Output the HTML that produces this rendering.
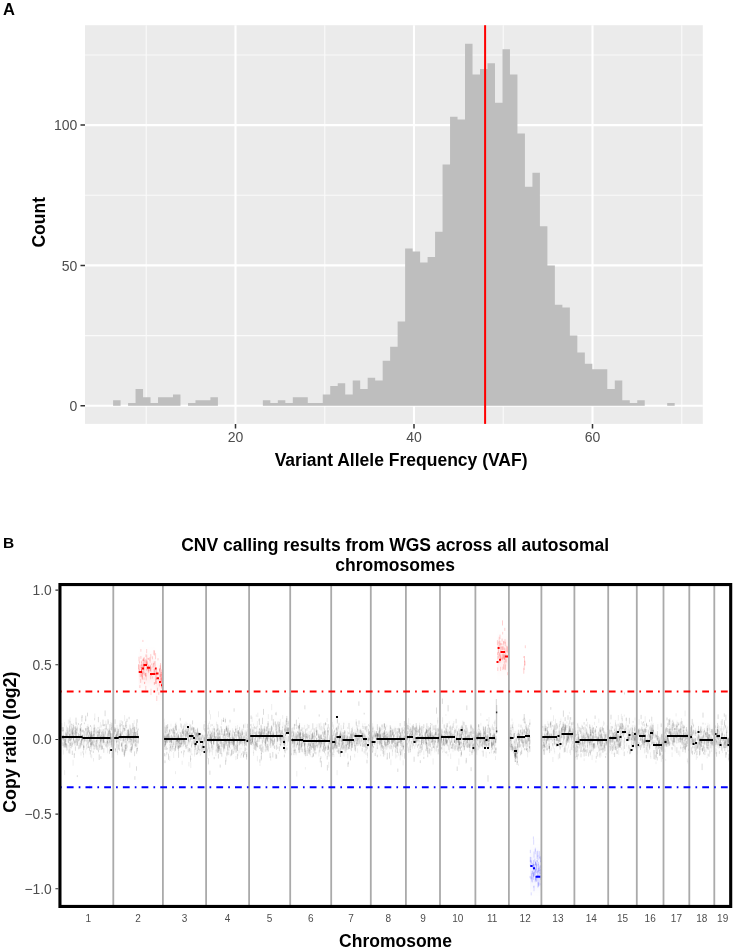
<!DOCTYPE html><html><head><meta charset="utf-8"><style>html,body{margin:0;padding:0;background:#fff;width:733px;height:949px;overflow:hidden}svg{display:block;will-change:transform}text{font-family:"Liberation Sans",sans-serif}</style></head><body>
<svg width="733" height="949" viewBox="0 0 733 949">
<rect x="85" y="25.2" width="617.80" height="398.70" fill="#EBEBEB"/>
<path d="M85 335.59H702.8M85 195.26H702.8M85 54.94H702.8M146.25 25.2V423.9M324.75 25.2V423.9M503.25 25.2V423.9M681.75 25.2V423.9" stroke="#FAFAFA" stroke-width="1.1" fill="none"/>
<path d="M85 405.75H702.8M85 265.42H702.8M85 125.10H702.8M235.50 25.2V423.9M414.00 25.2V423.9M592.50 25.2V423.9" stroke="#FFFFFF" stroke-width="2.1" fill="none"/>
<path d="M113.09 405.75V400.14h7.488V405.75zM128.07 405.75V402.94h7.488V405.75zM135.55 405.75V388.91h7.488V405.75zM143.04 405.75V397.33h7.488V405.75zM150.53 405.75V402.94h7.488V405.75zM158.02 405.75V397.33h7.488V405.75zM165.51 405.75V397.33h7.488V405.75zM172.99 405.75V394.52h7.488V405.75zM187.97 405.75V402.94h7.488V405.75zM195.46 405.75V400.14h7.488V405.75zM202.95 405.75V400.14h7.488V405.75zM210.43 405.75V397.33h7.488V405.75zM262.85 405.75V400.14h7.488V405.75zM270.34 405.75V402.94h7.488V405.75zM277.83 405.75V400.14h7.488V405.75zM285.31 405.75V402.94h7.488V405.75zM292.80 405.75V397.33h7.488V405.75zM300.29 405.75V397.33h7.488V405.75zM307.78 405.75V402.94h7.488V405.75zM315.27 405.75V402.94h7.488V405.75zM322.75 405.75V394.52h7.488V405.75zM330.24 405.75V386.10h7.488V405.75zM337.73 405.75V383.30h7.488V405.75zM345.22 405.75V394.52h7.488V405.75zM352.71 405.75V380.49h7.488V405.75zM360.19 405.75V388.91h7.488V405.75zM367.68 405.75V377.69h7.488V405.75zM375.17 405.75V380.49h7.488V405.75zM382.66 405.75V360.85h7.488V405.75zM390.15 405.75V346.81h7.488V405.75zM397.63 405.75V321.56h7.488V405.75zM405.12 405.75V248.59h7.488V405.75zM412.61 405.75V251.39h7.488V405.75zM420.10 405.75V262.62h7.488V405.75zM427.59 405.75V257.01h7.488V405.75zM435.07 405.75V231.75h7.488V405.75zM442.56 405.75V164.39h7.488V405.75zM450.05 405.75V116.68h7.488V405.75zM457.54 405.75V119.49h7.488V405.75zM465.03 405.75V43.71h7.488V405.75zM472.51 405.75V74.58h7.488V405.75zM480.00 405.75V68.97h7.488V405.75zM487.49 405.75V63.36h7.488V405.75zM494.98 405.75V102.65h7.488V405.75zM502.47 405.75V49.32h7.488V405.75zM509.95 405.75V74.58h7.488V405.75zM517.44 405.75V133.52h7.488V405.75zM524.93 405.75V186.84h7.488V405.75zM532.42 405.75V172.81h7.488V405.75zM539.91 405.75V226.13h7.488V405.75zM547.39 405.75V265.42h7.488V405.75zM554.88 405.75V304.72h7.488V405.75zM562.37 405.75V307.52h7.488V405.75zM569.86 405.75V335.59h7.488V405.75zM577.35 405.75V352.43h7.488V405.75zM584.83 405.75V363.65h7.488V405.75zM592.32 405.75V369.27h7.488V405.75zM599.81 405.75V369.27h7.488V405.75zM607.30 405.75V388.91h7.488V405.75zM614.79 405.75V380.49h7.488V405.75zM622.27 405.75V400.14h7.488V405.75zM629.76 405.75V402.94h7.488V405.75zM637.25 405.75V400.14h7.488V405.75zM667.20 405.75V402.94h7.488V405.75z" fill="#BEBEBE"/>
<rect x="484.10" y="25.2" width="2.0" height="398.70" fill="#FF0000"/>
<path d="M80.5 405.75H85M80.5 265.42H85M80.5 125.10H85M235.50 423.9V428.5M414.00 423.9V428.5M592.50 423.9V428.5" stroke="#333333" stroke-width="1.5" fill="none"/>
<text x="77.4" y="410.85" font-size="14" fill="#4D4D4D" text-anchor="end">0</text>
<text x="77.4" y="270.52" font-size="14" fill="#4D4D4D" text-anchor="end">50</text>
<text x="77.4" y="130.20" font-size="14" fill="#4D4D4D" text-anchor="end">100</text>
<text x="235.50" y="442.4" font-size="14" fill="#4D4D4D" text-anchor="middle">20</text>
<text x="414.00" y="442.4" font-size="14" fill="#4D4D4D" text-anchor="middle">40</text>
<text x="592.50" y="442.4" font-size="14" fill="#4D4D4D" text-anchor="middle">60</text>
<text x="0" y="0" font-size="17.5" font-weight="bold" fill="#000" text-anchor="middle" transform="translate(45.2,222.25) rotate(-90)">Count</text>
<text x="401.1" y="465.5" font-size="17.5" font-weight="bold" fill="#000" text-anchor="middle">Variant Allele Frequency (VAF)</text>
<text x="3.1" y="14.9" font-size="16.5" font-weight="bold" fill="#000">A</text>
<text x="2.9" y="548.4" font-size="15.5" font-weight="bold" fill="#000">B</text>
<text x="395.1" y="551.4" font-size="17.5" font-weight="bold" fill="#000" text-anchor="middle">CNV calling results from WGS across all autosomal</text>
<text x="395.1" y="571.4" font-size="17.5" font-weight="bold" fill="#000" text-anchor="middle">chromosomes</text>
<defs><linearGradient id="gg" x1="0" y1="0" x2="0" y2="1"><stop offset="0.0000" stop-color="#000" stop-opacity="0.000"/><stop offset="0.0417" stop-color="#000" stop-opacity="0.000"/><stop offset="0.0833" stop-color="#000" stop-opacity="0.000"/><stop offset="0.1250" stop-color="#000" stop-opacity="0.000"/><stop offset="0.1667" stop-color="#000" stop-opacity="0.001"/><stop offset="0.2083" stop-color="#000" stop-opacity="0.002"/><stop offset="0.2500" stop-color="#000" stop-opacity="0.003"/><stop offset="0.2917" stop-color="#000" stop-opacity="0.006"/><stop offset="0.3333" stop-color="#000" stop-opacity="0.009"/><stop offset="0.3750" stop-color="#000" stop-opacity="0.013"/><stop offset="0.4167" stop-color="#000" stop-opacity="0.016"/><stop offset="0.4583" stop-color="#000" stop-opacity="0.019"/><stop offset="0.5000" stop-color="#000" stop-opacity="0.020"/><stop offset="0.5417" stop-color="#000" stop-opacity="0.019"/><stop offset="0.5833" stop-color="#000" stop-opacity="0.016"/><stop offset="0.6250" stop-color="#000" stop-opacity="0.013"/><stop offset="0.6667" stop-color="#000" stop-opacity="0.009"/><stop offset="0.7083" stop-color="#000" stop-opacity="0.006"/><stop offset="0.7500" stop-color="#000" stop-opacity="0.003"/><stop offset="0.7917" stop-color="#000" stop-opacity="0.002"/><stop offset="0.8333" stop-color="#000" stop-opacity="0.001"/><stop offset="0.8750" stop-color="#000" stop-opacity="0.000"/><stop offset="0.9167" stop-color="#000" stop-opacity="0.000"/><stop offset="0.9583" stop-color="#000" stop-opacity="0.000"/><stop offset="1.0000" stop-color="#000" stop-opacity="0.000"/></linearGradient><linearGradient id="gr" x1="0" y1="0" x2="0" y2="1"><stop offset="0.0000" stop-color="#F00" stop-opacity="0.000"/><stop offset="0.0417" stop-color="#F00" stop-opacity="0.001"/><stop offset="0.0833" stop-color="#F00" stop-opacity="0.002"/><stop offset="0.1250" stop-color="#F00" stop-opacity="0.004"/><stop offset="0.1667" stop-color="#F00" stop-opacity="0.008"/><stop offset="0.2083" stop-color="#F00" stop-opacity="0.013"/><stop offset="0.2500" stop-color="#F00" stop-opacity="0.021"/><stop offset="0.2917" stop-color="#F00" stop-opacity="0.032"/><stop offset="0.3333" stop-color="#F00" stop-opacity="0.044"/><stop offset="0.3750" stop-color="#F00" stop-opacity="0.058"/><stop offset="0.4167" stop-color="#F00" stop-opacity="0.069"/><stop offset="0.4583" stop-color="#F00" stop-opacity="0.077"/><stop offset="0.5000" stop-color="#F00" stop-opacity="0.080"/><stop offset="0.5417" stop-color="#F00" stop-opacity="0.077"/><stop offset="0.5833" stop-color="#F00" stop-opacity="0.069"/><stop offset="0.6250" stop-color="#F00" stop-opacity="0.058"/><stop offset="0.6667" stop-color="#F00" stop-opacity="0.044"/><stop offset="0.7083" stop-color="#F00" stop-opacity="0.032"/><stop offset="0.7500" stop-color="#F00" stop-opacity="0.021"/><stop offset="0.7917" stop-color="#F00" stop-opacity="0.013"/><stop offset="0.8333" stop-color="#F00" stop-opacity="0.008"/><stop offset="0.8750" stop-color="#F00" stop-opacity="0.004"/><stop offset="0.9167" stop-color="#F00" stop-opacity="0.002"/><stop offset="0.9583" stop-color="#F00" stop-opacity="0.001"/><stop offset="1.0000" stop-color="#F00" stop-opacity="0.000"/></linearGradient><linearGradient id="gb" x1="0" y1="0" x2="0" y2="1"><stop offset="0.0000" stop-color="#00F" stop-opacity="0.001"/><stop offset="0.0417" stop-color="#00F" stop-opacity="0.001"/><stop offset="0.0833" stop-color="#00F" stop-opacity="0.003"/><stop offset="0.1250" stop-color="#00F" stop-opacity="0.005"/><stop offset="0.1667" stop-color="#00F" stop-opacity="0.008"/><stop offset="0.2083" stop-color="#00F" stop-opacity="0.013"/><stop offset="0.2500" stop-color="#00F" stop-opacity="0.019"/><stop offset="0.2917" stop-color="#00F" stop-opacity="0.027"/><stop offset="0.3333" stop-color="#00F" stop-opacity="0.036"/><stop offset="0.3750" stop-color="#00F" stop-opacity="0.045"/><stop offset="0.4167" stop-color="#00F" stop-opacity="0.053"/><stop offset="0.4583" stop-color="#00F" stop-opacity="0.058"/><stop offset="0.5000" stop-color="#00F" stop-opacity="0.060"/><stop offset="0.5417" stop-color="#00F" stop-opacity="0.058"/><stop offset="0.5833" stop-color="#00F" stop-opacity="0.053"/><stop offset="0.6250" stop-color="#00F" stop-opacity="0.045"/><stop offset="0.6667" stop-color="#00F" stop-opacity="0.036"/><stop offset="0.7083" stop-color="#00F" stop-opacity="0.027"/><stop offset="0.7500" stop-color="#00F" stop-opacity="0.019"/><stop offset="0.7917" stop-color="#00F" stop-opacity="0.013"/><stop offset="0.8333" stop-color="#00F" stop-opacity="0.008"/><stop offset="0.8750" stop-color="#00F" stop-opacity="0.005"/><stop offset="0.9167" stop-color="#00F" stop-opacity="0.003"/><stop offset="0.9583" stop-color="#00F" stop-opacity="0.001"/><stop offset="1.0000" stop-color="#00F" stop-opacity="0.001"/></linearGradient></defs><rect x="61.7" y="706.6" width="20.8" height="60" fill="url(#gg)"/><rect x="82.5" y="707.5" width="29.8" height="60" fill="url(#gg)"/><rect x="113.9" y="707.5" width="24.8" height="60" fill="url(#gg)"/><rect x="163.5" y="708.9" width="23.5" height="60" fill="url(#gg)"/><rect x="187.0" y="709.5" width="18.5" height="60" fill="url(#gg)"/><rect x="206.8" y="710.2" width="41.7" height="60" fill="url(#gg)"/><rect x="249.8" y="705.5" width="33.2" height="60" fill="url(#gg)"/><rect x="283.0" y="706.0" width="6.5" height="60" fill="url(#gg)"/><rect x="290.8" y="710.5" width="39.7" height="60" fill="url(#gg)"/><rect x="331.8" y="709.0" width="38.4" height="60" fill="url(#gg)"/><rect x="371.4" y="709.0" width="33.9" height="60" fill="url(#gg)"/><rect x="406.5" y="707.7" width="32.9" height="60" fill="url(#gg)"/><rect x="440.6" y="708.0" width="34.2" height="60" fill="url(#gg)"/><rect x="476.0" y="708.0" width="20.5" height="60" fill="url(#gg)"/><rect x="509.5" y="708.0" width="20.5" height="60" fill="url(#gg)"/><rect x="542.0" y="707.0" width="16.0" height="60" fill="url(#gg)"/><rect x="558.0" y="704.5" width="16.0" height="60" fill="url(#gg)"/><rect x="575.0" y="709.8" width="32.6" height="60" fill="url(#gg)"/><rect x="608.8" y="707.0" width="27.4" height="60" fill="url(#gg)"/><rect x="637.4" y="710.0" width="25.5" height="60" fill="url(#gg)"/><rect x="664.0" y="706.2" width="24.7" height="60" fill="url(#gg)"/><rect x="689.9" y="709.5" width="23.8" height="60" fill="url(#gg)"/><rect x="714.9" y="708.5" width="14.1" height="60" fill="url(#gg)"/><rect x="138.7" y="642" width="17" height="60" fill="url(#gr)"/><rect x="155.7" y="650" width="6.5" height="60" fill="url(#gr)"/><rect x="497.3" y="625" width="10.7" height="60" fill="url(#gr)"/><rect x="530" y="834" width="11" height="72" fill="url(#gb)"/><path d="M61.9 723.0v4.9M62.0 738.1v5.5M62.5 736.1v2.8M63.0 727.0v3.6M63.0 735.6v2.4M63.2 735.6v1.7M63.4 749.5v5.1M63.4 729.8v6.0M63.5 741.9v4.7M63.7 737.2v4.3M64.3 741.1v3.9M64.6 770.1v5.0M64.6 721.9v4.6M65.0 739.7v4.7M65.4 736.3v3.7M65.8 739.4v5.9M66.5 725.5v5.6M66.7 733.6v5.7M67.1 733.4v5.6M68.0 744.9v5.0M68.0 730.7v3.5M68.3 733.2v5.3M68.3 719.5v4.6M68.6 728.1v5.3M69.1 745.2v2.1M69.3 742.0v3.4M69.5 743.2v6.2M69.7 726.9v4.5M69.7 719.5v3.1M70.0 737.7v3.4M70.1 717.4v2.5M70.1 739.1v4.9M70.4 740.7v4.6M70.5 738.9v2.1M70.9 728.8v4.4M71.1 742.0v4.0M71.1 744.8v3.9M71.4 731.2v5.6M71.5 734.9v3.5M71.5 736.1v2.4M72.1 727.5v6.5M72.2 728.3v5.5M72.2 724.0v2.4M72.4 733.1v5.0M72.5 728.1v6.3M72.7 729.0v4.1M72.9 726.7v5.8M73.1 759.7v6.0M73.2 731.6v2.4M73.4 738.7v5.1M73.6 723.2v6.4M73.9 730.7v4.1M74.2 741.6v2.7M74.3 729.5v2.5M74.7 732.8v1.9M75.0 740.4v3.1M75.3 729.7v5.2M75.4 726.1v6.5M75.6 729.9v5.5M75.7 738.7v4.2M75.8 733.5v4.7M75.9 731.2v1.6M76.1 725.9v6.3M76.7 740.4v5.6M76.8 737.4v4.9M77.0 739.4v3.3M77.1 736.1v4.1M77.4 735.8v6.0M77.4 725.3v5.5M77.5 727.4v6.2M77.8 738.2v1.9M78.5 735.4v3.6M78.5 739.3v1.7M78.8 746.8v3.0M79.1 742.2v2.1M79.2 735.8v4.7M80.5 746.5v2.1M80.8 740.7v5.5M80.9 735.7v2.5M81.0 751.8v3.8M81.3 727.0v3.2M81.4 738.3v2.6M82.4 735.7v5.0M82.5 751.1v2.2M82.5 743.6v1.9M83.1 729.6v2.0M83.2 729.8v2.6M83.5 752.8v4.8M83.5 729.9v3.7M83.5 749.6v5.3M83.8 738.8v5.3M83.9 743.8v6.0M84.0 741.6v1.9M84.4 745.8v2.1M84.7 735.6v5.3M85.7 750.4v3.1M85.7 718.8v2.6M86.1 748.5v1.6M86.2 739.5v1.9M86.2 729.1v1.8M86.7 744.0v5.1M86.9 741.5v4.6M87.7 740.7v3.9M87.8 742.1v2.1M87.9 724.0v5.7M87.9 730.2v6.5M88.5 742.2v1.8M88.6 736.1v1.9M88.7 726.1v6.1M88.8 739.2v4.2M89.2 735.1v2.4M89.4 730.3v3.8M89.5 730.0v5.5M89.6 785.2v3.9M89.6 732.1v2.3M90.3 738.5v4.6M90.7 753.7v3.7M91.0 749.7v2.7M91.2 742.5v2.1M91.2 737.2v1.6M91.5 728.4v4.8M91.6 726.5v1.8M91.6 734.7v6.1M91.7 733.5v5.2M91.7 754.4v3.9M91.7 745.9v5.8M91.7 739.5v6.3M91.8 739.6v2.8M91.9 736.6v2.9M92.6 741.6v4.8M93.5 758.0v3.5M93.6 734.0v2.3M93.8 743.9v5.4M93.9 736.7v2.5M94.0 727.6v4.1M94.0 730.6v4.3M94.0 747.8v2.6M94.1 727.8v4.5M94.2 734.0v1.7M94.3 737.1v4.3M94.5 740.8v2.5M94.5 718.2v2.5M94.5 745.4v4.0M94.7 744.5v2.4M94.8 732.5v4.9M94.8 713.5v6.4M95.1 737.5v4.3M95.3 741.1v4.0M95.9 730.3v3.7M96.4 734.5v3.4M96.5 728.7v4.9M96.9 731.8v2.8M97.1 739.0v5.5M97.3 739.5v3.7M97.5 745.8v4.9M97.6 729.5v2.7M97.6 734.0v3.5M98.0 735.8v2.4M98.2 737.0v4.4M98.2 730.1v5.7M98.2 748.1v1.7M98.7 730.2v5.5M98.7 743.4v2.7M98.8 731.4v1.7M98.8 746.2v4.0M99.4 731.9v2.6M99.4 726.6v3.7M99.5 729.5v4.3M99.6 738.5v1.6M99.8 744.2v5.9M99.9 742.0v4.3M100.4 722.1v5.6M100.5 736.7v5.0M101.1 735.1v5.7M101.2 740.2v4.4M101.5 724.6v2.9M101.7 735.1v4.8M101.8 738.6v2.4M102.1 731.6v5.8M102.4 735.8v4.4M102.5 731.1v6.0M102.8 739.2v3.3M103.1 739.9v5.4M103.1 736.1v2.4M103.1 739.7v3.3M103.7 729.1v1.6M104.1 740.9v2.1M104.6 740.6v4.6M105.4 744.5v2.0M105.5 731.3v5.5M105.7 731.4v3.7M105.8 720.6v4.9M106.4 725.7v3.4M106.9 744.0v3.8M107.0 735.1v3.2M107.5 747.8v5.5M107.6 729.3v5.4M108.0 737.8v3.7M108.3 742.1v3.5M108.4 733.5v3.6M108.4 720.7v2.8M108.4 735.6v3.8M108.7 738.2v2.2M108.8 741.5v5.4M108.9 728.1v3.2M109.3 734.1v5.0M109.4 747.0v5.5M109.4 735.1v1.8M109.5 740.5v5.2M109.8 737.8v4.2M110.6 728.4v3.6M110.7 736.4v3.4M110.8 721.9v4.7M110.9 743.1v4.4M111.3 737.4v5.8M111.6 728.2v2.6M111.9 724.7v1.7M112.0 744.9v2.7M112.1 740.2v5.0M112.2 726.0v3.8M113.9 734.3v4.7M114.3 741.1v4.6M114.3 737.9v3.5M114.5 729.6v5.3M114.5 727.7v2.1M115.1 737.6v3.9M115.2 727.9v2.7M115.8 736.2v3.6M115.9 728.2v4.3M115.9 727.7v1.9M116.0 735.3v2.7M116.2 735.1v2.9M116.3 730.3v4.0M116.3 732.6v2.6M116.9 738.5v4.0M116.9 732.1v6.2M117.0 738.0v4.1M117.1 724.9v3.5M117.5 749.1v3.8M117.6 751.3v3.9M117.9 743.7v5.8M117.9 727.6v5.2M118.4 737.7v4.1M118.5 733.1v5.1M118.8 732.2v5.3M118.9 739.2v4.5M119.1 741.4v4.0M119.3 741.1v5.9M119.9 737.8v3.3M120.1 720.2v6.5M120.6 733.7v3.7M120.7 736.2v5.0M120.8 732.2v3.9M121.2 738.2v2.7M121.6 720.2v2.6M122.2 746.6v5.5M122.3 747.3v2.6M122.4 741.6v6.2M122.4 749.8v2.6M122.4 721.4v6.2M122.7 721.3v2.3M122.8 729.9v1.6M123.2 738.1v5.9M123.2 748.5v3.5M123.3 734.5v6.1M123.3 739.5v2.5M124.2 751.9v5.2M124.2 738.7v4.3M124.2 734.8v6.3M124.2 728.1v5.7M124.2 745.7v2.8M124.6 715.1v6.0M124.7 728.3v3.1M124.8 750.1v5.6M125.1 736.6v5.7M125.1 744.7v5.1M125.2 728.4v2.7M125.4 736.6v6.2M125.5 749.3v3.9M125.7 722.2v4.3M125.8 741.3v3.7M126.0 745.1v5.9M126.0 724.6v1.6M126.0 731.6v4.0M126.3 733.1v3.9M126.7 725.1v2.9M126.9 745.2v5.9M127.0 735.9v4.7M127.3 729.0v3.2M127.5 745.6v2.1M128.1 732.3v4.9M128.3 733.3v4.9M128.4 736.8v3.2M129.1 732.3v6.3M129.1 738.1v4.1M129.4 731.0v3.8M129.8 762.4v5.3M129.9 724.2v4.8M130.0 729.4v4.6M130.1 725.3v5.4M130.5 733.8v3.0M130.6 741.5v4.2M131.0 735.3v4.4M131.1 739.2v2.9M131.2 746.2v5.7M131.9 729.1v3.7M131.9 733.6v4.1M132.0 742.6v1.6M132.1 745.4v4.8M132.3 743.4v4.4M132.6 731.3v1.7M132.7 737.3v5.5M132.8 741.3v4.4M133.3 735.4v3.7M133.3 737.1v5.5M133.3 736.6v2.8M133.5 733.1v4.0M133.6 724.5v5.7M133.6 727.3v5.0M134.2 720.2v4.0M134.5 734.7v4.0M134.5 728.8v5.4M135.0 744.4v3.5M135.2 732.2v2.8M136.1 732.1v3.6M136.5 731.4v5.4M137.1 741.2v2.4M137.4 719.2v3.5M138.1 735.4v3.5M138.3 735.6v5.8M138.4 740.8v3.3M163.6 741.5v2.3M163.9 732.7v1.7M164.0 738.5v3.3M164.2 736.7v1.8M164.2 718.7v3.1M164.3 739.2v3.6M164.5 722.2v5.2M164.8 738.3v6.1M165.2 732.8v5.2M165.2 727.3v4.3M165.8 732.0v6.5M165.9 753.8v2.8M166.3 727.9v5.1M166.3 736.8v3.7M166.4 736.2v2.0M166.8 740.0v2.8M166.9 732.5v5.4M168.4 738.7v2.7M168.8 734.8v5.5M169.4 746.7v6.1M169.7 755.9v5.1M170.1 737.1v4.9M170.2 736.4v5.0M170.3 730.1v4.0M170.8 737.9v4.5M170.8 728.4v2.0M171.0 723.6v3.1M171.1 734.9v3.3M171.3 748.1v3.9M171.8 744.1v4.9M171.8 737.7v5.6M172.0 744.5v2.1M172.0 746.8v3.0M172.2 736.5v2.6M172.4 732.0v1.8M172.9 747.6v3.3M173.3 747.7v1.6M173.7 752.0v6.0M174.2 726.2v4.3M174.3 730.2v6.5M174.4 730.0v3.8M174.4 736.2v2.2M174.4 735.8v2.9M175.0 744.6v4.9M175.1 728.3v4.2M175.5 771.2v2.9M175.6 732.5v5.4M176.0 726.2v3.2M176.0 722.3v5.8M176.1 742.6v4.0M176.6 737.8v3.2M176.8 734.4v5.7M176.8 744.4v3.3M177.3 737.7v4.2M177.4 739.8v6.0M177.6 745.3v3.4M177.6 731.3v3.3M177.7 732.3v2.5M177.9 745.1v4.5M178.3 736.2v1.8M178.5 741.1v2.3M179.0 728.7v4.0M179.1 736.8v3.3M179.2 742.9v5.6M179.6 738.8v3.1M180.6 723.2v3.8M180.6 744.6v2.1M181.2 739.7v6.0M181.3 734.0v5.9M181.5 739.5v5.1M181.8 745.8v1.5M182.1 731.1v1.7M182.1 729.9v3.8M182.2 760.8v4.0M182.6 738.2v1.7M182.9 728.8v2.2M182.9 731.4v2.4M183.2 728.4v6.3M183.3 731.6v5.6M183.5 752.2v5.2M183.8 750.3v4.5M183.9 731.6v5.2M184.1 728.2v3.4M184.3 739.4v2.6M184.3 723.4v4.9M184.4 740.3v1.6M184.9 742.4v2.7M185.1 730.1v6.3M185.2 724.0v3.5M185.5 745.7v3.2M185.5 741.1v5.5M185.6 743.7v3.3M186.0 721.7v6.5M186.2 732.7v4.6M186.4 744.7v4.5M186.4 728.8v5.4M186.7 744.9v3.3M187.1 744.3v4.2M187.1 728.8v4.6M187.2 723.3v3.5M187.2 728.1v6.3M187.5 742.4v3.6M187.9 727.9v6.1M188.0 733.9v5.5M188.2 740.8v1.9M188.2 746.9v2.2M188.5 737.9v5.8M188.5 728.0v2.1M188.6 735.0v5.3M188.7 732.6v2.1M188.7 728.8v2.4M188.9 761.9v4.5M189.0 741.0v3.9M189.4 723.7v5.7M189.6 731.6v6.2M189.8 738.9v4.4M189.9 731.9v2.1M190.3 738.0v2.4M190.3 738.9v2.9M190.6 734.4v3.0M190.8 737.5v1.9M190.8 762.2v5.9M190.9 757.9v2.1M191.1 748.7v6.3M191.5 734.4v5.4M191.7 741.2v5.2M191.7 743.1v1.9M191.7 734.0v2.7M191.8 727.2v3.2M192.1 753.5v2.0M192.3 732.4v5.4M192.6 728.0v6.0M192.7 741.1v3.6M194.0 727.4v2.7M194.2 738.4v6.2M194.4 752.5v4.1M194.6 740.5v2.5M194.6 730.1v4.2M194.7 749.4v2.9M194.9 743.6v3.9M195.0 748.9v5.9M195.0 744.6v5.3M195.0 735.6v4.2M195.5 729.5v1.8M195.6 729.6v3.5M195.7 742.7v3.1M195.8 735.3v5.5M195.8 742.2v2.9M196.1 737.7v2.1M196.4 748.0v1.8M197.2 732.4v4.0M197.4 744.9v6.2M197.5 737.1v3.8M198.0 744.9v2.2M198.0 732.9v4.7M198.2 746.6v6.3M198.2 732.4v5.3M198.8 743.4v3.7M199.0 738.8v4.6M199.0 745.3v4.5M199.2 732.1v4.5M199.3 740.9v2.7M199.3 748.6v5.0M199.9 737.0v3.7M200.2 737.2v4.9M200.2 738.5v2.5M200.3 754.0v1.8M200.3 740.6v5.2M200.3 744.2v6.3M200.3 733.2v4.4M200.9 751.4v3.2M201.2 733.5v5.2M201.4 737.5v2.7M201.4 746.6v2.4M201.6 736.2v3.8M201.9 737.5v5.3M202.1 744.2v4.0M202.3 745.5v6.4M202.5 743.4v2.7M202.5 734.3v1.7M203.1 745.5v4.2M203.2 735.6v4.9M203.4 739.7v4.0M203.8 738.0v3.9M204.1 736.4v2.1M204.3 737.7v5.9M204.7 723.9v2.8M204.7 728.3v2.9M205.0 749.3v4.2M205.1 745.5v3.7M205.2 748.2v3.4M205.2 744.0v6.5M205.3 742.5v4.6M205.3 746.5v6.1M206.9 748.3v4.6M207.1 748.9v2.6M207.1 749.3v3.7M207.1 750.0v2.1M207.1 747.7v3.4M207.2 733.2v3.1M207.4 752.9v5.9M207.9 725.0v3.6M208.0 738.7v5.8M208.4 731.9v3.4M208.5 722.8v5.9M208.8 741.1v2.1M209.0 734.5v3.7M209.2 749.6v6.3M209.2 727.6v3.6M209.4 744.5v4.7M209.5 721.4v2.6M209.5 710.1v4.3M209.6 737.4v1.6M209.7 747.2v5.6M210.0 749.5v2.0M210.1 734.6v5.1M210.2 734.1v6.3M210.5 714.2v5.4M210.7 724.3v2.9M211.1 747.4v4.6M211.1 739.3v4.4M211.2 734.7v1.9M211.7 743.1v2.1M211.8 737.4v3.9M211.9 744.6v4.2M212.3 728.2v3.1M212.4 749.5v5.9M213.8 737.9v2.8M213.9 725.9v4.7M214.0 734.2v6.1M214.0 732.5v2.2M214.2 735.5v2.4M214.4 733.8v2.8M214.7 732.8v4.7M214.8 729.6v5.7M215.9 749.6v6.4M216.2 746.6v4.4M216.5 736.5v6.1M216.5 733.9v3.1M216.5 731.6v1.9M216.6 721.7v3.7M217.4 746.7v1.6M217.9 737.4v2.1M218.0 749.1v5.1M218.1 736.7v2.8M218.1 724.7v6.3M218.1 743.8v1.6M218.3 731.7v4.7M218.3 737.7v2.5M218.5 711.3v5.9M218.9 732.7v5.0M219.0 744.6v4.5M219.1 741.7v5.3M219.6 729.4v5.5M219.9 735.6v3.2M219.9 740.4v3.7M220.2 736.3v6.3M220.4 726.3v1.6M220.5 738.1v1.5M220.5 733.1v4.7M220.6 737.6v4.7M220.7 739.1v5.1M221.3 738.6v4.9M221.4 738.6v2.6M221.6 719.2v5.9M221.6 741.0v4.4M221.9 733.3v1.8M222.9 735.6v2.3M223.0 742.1v5.8M223.3 720.0v1.6M223.4 749.2v2.2M223.8 748.0v4.2M223.9 742.8v5.5M224.1 742.3v5.5M224.6 736.7v2.9M224.7 739.5v3.3M224.8 748.3v2.3M225.0 729.6v3.2M225.1 729.3v2.8M225.2 739.0v2.8M225.3 717.7v5.5M225.6 741.4v4.0M225.7 732.7v6.2M225.7 737.4v2.5M225.8 756.5v4.7M226.1 757.6v4.2M226.2 739.1v1.8M226.8 733.2v6.1M227.4 733.2v1.8M227.7 727.3v4.9M227.8 730.1v4.7M227.8 743.8v6.4M227.9 729.0v4.3M228.0 747.1v1.6M228.3 730.3v4.9M228.3 749.1v6.0M228.7 724.9v4.5M228.9 741.7v4.9M228.9 736.7v4.2M228.9 739.2v5.4M228.9 752.0v3.3M229.0 743.5v3.0M229.2 742.2v4.1M229.2 746.6v4.6M229.3 732.9v2.0M229.5 731.6v3.6M229.5 733.4v5.8M229.7 736.3v6.1M230.3 730.5v1.6M230.3 747.2v1.8M231.9 732.5v6.3M232.2 734.7v4.2M232.3 740.4v4.0M232.4 728.3v6.4M232.5 735.4v5.6M232.8 734.2v4.6M233.1 741.3v1.9M233.3 739.2v4.9M233.5 743.4v2.6M233.7 738.4v3.6M233.8 736.0v6.1M234.1 746.9v3.2M234.1 744.3v3.9M234.2 743.8v4.7M234.2 747.9v2.6M234.2 737.1v5.1M234.3 746.7v6.0M234.6 739.4v2.8M234.7 738.1v2.5M235.5 734.0v4.0M235.7 725.9v6.0M235.8 733.6v2.9M235.9 755.9v4.2M235.9 747.8v5.2M236.6 744.3v3.3M236.7 739.6v6.2M237.1 728.3v5.2M237.4 725.0v3.9M237.7 741.3v4.0M238.1 750.1v6.1M238.2 729.9v5.7M238.3 732.0v2.0M238.6 730.4v3.6M239.2 736.4v4.1M239.2 738.8v2.4M239.6 737.3v3.0M239.6 735.4v5.7M239.7 739.2v6.2M239.7 738.8v6.1M239.8 732.1v3.1M239.9 747.6v5.7M240.2 730.6v5.3M240.6 735.5v5.9M240.8 734.3v6.2M240.8 754.6v3.4M240.9 739.8v1.8M241.2 747.8v1.6M241.4 730.2v3.3M242.1 740.1v2.7M242.4 731.0v2.3M242.4 751.2v2.8M242.7 742.1v4.2M242.9 741.8v2.7M243.1 737.7v3.9M243.2 737.3v5.6M243.6 724.6v5.7M244.1 731.7v2.0M244.1 732.8v5.1M244.4 735.5v2.6M244.5 740.2v5.9M244.6 745.0v4.9M244.7 735.9v5.5M244.8 737.2v5.9M244.9 751.8v2.5M245.1 723.4v4.6M245.2 729.9v1.9M245.6 736.4v3.3M245.9 732.1v4.3M246.2 741.6v4.6M246.5 740.6v5.4M246.6 748.5v1.7M246.7 732.4v3.7M247.1 729.3v3.0M247.3 734.7v5.2M247.4 738.6v4.6M247.5 728.4v6.3M247.6 735.8v1.7M248.4 739.0v4.6M250.4 733.4v3.3M250.5 728.4v3.7M250.6 732.6v5.4M250.7 739.9v2.5M250.7 736.8v4.1M250.8 739.9v4.6M251.3 729.1v4.1M251.5 724.0v4.9M252.1 743.3v2.7M252.1 716.7v5.3M252.3 729.1v4.1M252.4 734.8v6.4M252.4 735.0v5.3M252.8 726.9v5.1M253.4 751.8v1.6M253.4 735.5v4.7M253.5 723.7v2.3M253.6 750.0v5.9M253.6 731.7v6.0M253.9 742.4v3.2M254.1 727.2v3.8M254.1 743.8v5.7M254.1 741.1v2.1M255.2 738.0v3.9M255.5 742.3v4.8M255.5 735.3v5.4M255.6 741.6v4.0M255.6 746.8v4.2M255.6 740.9v4.3M256.0 731.9v5.2M256.3 714.5v2.3M256.3 741.4v4.4M256.4 745.5v5.6M256.6 741.8v1.5M256.8 726.0v6.4M257.3 721.0v6.3M257.4 755.9v5.4M257.8 712.7v4.4M257.9 738.5v4.0M258.8 735.9v2.4M258.9 718.8v2.5M258.9 731.0v3.6M259.0 730.7v2.3M259.2 729.2v4.8M259.4 734.8v5.0M260.0 763.3v2.7M260.5 724.9v6.1M261.2 755.8v5.2M261.4 736.2v3.3M261.4 728.1v6.5M261.5 724.7v5.3M261.6 725.4v3.0M261.6 744.1v2.2M261.9 734.6v4.4M262.5 741.7v5.0M262.8 738.6v3.2M263.1 733.6v5.9M263.5 732.4v6.0M263.5 746.3v4.4M263.6 737.3v4.4M263.6 751.1v1.7M264.1 729.4v5.8M264.3 739.9v3.1M264.5 729.6v4.3M264.6 728.6v6.3M264.7 730.7v3.9M264.8 741.3v4.2M265.0 738.5v4.3M265.1 748.8v3.3M265.1 729.0v2.6M265.4 741.2v6.1M265.4 732.3v6.1M266.1 730.0v2.0M266.2 726.0v5.3M266.3 743.0v5.1M266.4 737.3v3.9M266.9 726.9v4.2M267.2 725.8v2.3M267.6 731.2v3.8M267.8 744.2v2.2M268.1 740.9v5.7M268.1 735.0v3.9M268.1 731.1v6.4M268.1 733.2v5.7M268.2 739.5v2.7M268.3 714.1v5.1M268.5 729.5v6.5M268.5 746.4v5.2M269.1 734.2v4.6M269.7 743.7v2.3M270.4 735.8v2.6M270.4 743.2v4.9M270.5 741.2v4.3M270.7 740.2v2.7M270.7 756.0v4.7M270.9 745.3v2.4M271.3 734.9v6.1M271.3 732.1v4.1M271.5 737.7v3.1M271.6 725.5v5.9M271.7 704.0v6.2M272.1 734.8v2.3M272.2 741.0v5.6M272.3 738.6v5.3M272.5 727.2v2.5M272.5 737.3v4.1M272.9 735.5v2.1M272.9 742.7v2.6M273.0 737.6v4.7M273.4 733.1v4.9M273.4 722.7v4.3M273.5 730.3v2.3M273.8 742.8v5.1M274.4 738.9v3.3M274.6 736.3v5.1M274.9 721.6v3.5M275.4 727.6v3.1M276.3 711.8v3.8M276.4 731.0v2.5M276.4 724.0v5.5M276.9 729.1v4.1M276.9 741.1v5.6M277.2 735.3v4.3M277.4 730.6v5.6M277.4 722.4v6.5M278.2 723.4v2.1M278.3 752.1v2.0M278.5 730.6v5.2M278.6 725.4v3.0M278.7 728.4v3.4M279.7 724.1v6.4M280.0 731.7v5.1M280.0 737.2v3.8M280.2 736.6v5.5M280.2 733.2v2.6M280.3 718.9v6.3M280.4 732.9v2.8M280.4 741.8v5.0M280.6 730.1v4.0M281.0 738.4v3.5M281.0 741.7v2.9M281.8 731.2v4.1M281.9 741.6v4.9M282.2 730.5v3.7M282.5 727.0v2.4M282.5 726.2v1.6M282.7 715.1v3.8M283.0 721.8v6.0M283.3 734.3v2.6M283.5 736.3v2.8M284.2 738.4v2.9M284.2 732.5v5.3M284.6 742.0v2.3M284.7 729.8v2.1M284.8 728.8v1.9M285.3 732.4v5.2M285.4 720.2v5.9M285.4 725.7v6.1M285.8 725.5v5.6M285.9 747.9v3.1M286.0 745.1v5.3M286.1 725.9v4.2M286.2 732.4v1.9M286.5 729.5v4.9M286.6 722.5v3.2M286.8 719.3v2.9M286.9 737.4v2.6M287.0 735.6v5.9M287.2 727.9v3.3M287.3 739.9v5.9M287.8 725.6v6.2M288.1 727.4v5.5M288.1 728.6v4.1M289.3 727.6v4.7M289.3 697.2v3.1M290.8 746.0v2.6M290.9 740.2v6.0M291.2 738.9v6.3M291.3 730.8v6.1M291.5 728.2v3.2M291.9 731.6v2.1M292.5 738.4v4.4M292.5 735.2v6.4M292.8 731.3v5.5M292.9 744.5v3.3M293.1 735.8v6.4M293.2 726.8v1.7M293.3 745.7v5.3M293.8 739.9v3.9M294.0 737.3v5.5M294.0 740.0v5.1M295.1 731.8v5.0M295.1 740.2v4.7M295.3 734.3v5.8M295.5 750.6v2.4M295.7 736.0v3.6M295.8 739.6v2.6M295.8 750.3v4.1M296.2 751.9v3.6M296.4 726.7v2.3M296.4 738.5v1.6M296.6 744.1v3.3M296.6 743.8v4.1M296.8 741.2v4.7M296.8 770.9v5.6M296.9 725.0v3.9M297.7 734.9v4.4M298.5 717.4v1.6M298.6 744.0v6.4M299.0 736.3v5.3M299.0 735.6v2.1M299.2 732.7v2.2M299.2 731.5v6.2M299.2 733.7v6.2M299.8 732.3v4.5M299.8 741.1v2.4M299.9 732.3v6.0M300.1 733.0v2.9M300.4 734.8v3.8M300.6 732.8v2.0M301.2 741.5v3.7M301.5 727.3v3.7M301.8 745.4v6.3M301.8 745.4v1.9M302.0 739.4v3.2M302.5 741.2v4.7M302.7 740.5v3.6M303.2 739.8v6.4M303.4 730.6v3.9M303.8 738.8v1.8M304.2 749.1v5.3M304.5 743.6v6.3M304.6 742.1v4.9M304.7 740.1v3.9M304.7 742.8v4.1M304.7 724.8v4.2M304.8 746.2v5.7M304.9 752.7v2.9M305.2 739.0v2.0M305.3 742.5v1.7M305.4 767.1v2.4M305.6 738.2v3.9M305.6 739.8v1.6M305.9 743.3v2.3M306.2 733.4v2.1M306.3 733.4v4.1M306.5 739.4v2.5M307.1 732.1v6.1M307.1 748.1v2.8M307.3 724.0v2.6M307.7 726.7v1.9M307.8 748.5v2.2M307.9 735.1v4.9M308.1 741.9v4.2M308.1 735.8v2.1M308.2 733.8v3.8M309.1 749.7v2.4M309.1 731.1v5.4M309.4 738.5v2.8M309.6 747.0v4.2M310.0 742.3v3.7M310.1 736.9v5.3M310.2 746.8v4.1M310.3 754.5v2.1M310.4 742.8v3.3M310.4 730.6v6.4M310.4 737.7v4.0M310.4 742.6v6.4M311.0 751.1v2.0M311.0 746.2v3.9M311.1 742.0v6.0M311.3 728.8v3.1M312.2 735.6v1.7M313.3 735.5v2.2M313.3 749.3v2.8M313.5 744.5v2.5M313.5 745.6v2.1M313.6 735.5v4.9M314.0 734.7v1.9M314.1 735.7v3.0M314.2 736.1v4.6M314.3 732.3v3.7M314.3 732.6v4.2M314.5 738.5v6.0M315.2 735.5v3.0M315.5 748.3v2.9M315.5 735.7v2.0M315.5 741.1v5.6M316.5 737.4v6.1M316.9 730.1v5.3M317.0 724.2v4.1M317.0 744.1v2.6M317.6 729.8v5.5M317.8 738.3v5.2M317.9 742.7v4.0M318.7 732.7v5.4M318.9 750.1v6.4M318.9 736.4v6.1M319.0 723.0v5.6M319.0 739.1v2.2M319.1 740.5v4.8M319.1 738.1v6.4M319.1 735.6v1.6M319.4 723.7v3.3M319.5 741.0v3.1M319.6 741.4v4.8M319.8 750.1v2.9M319.8 726.8v3.3M320.4 736.3v6.4M320.5 734.9v5.9M320.8 722.5v3.2M321.1 744.0v4.9M321.8 742.3v1.8M321.8 738.2v4.4M322.0 744.4v2.4M322.8 726.5v5.9M323.4 738.0v5.7M323.9 735.3v6.2M323.9 730.8v5.0M324.3 738.4v2.7M324.4 742.1v3.4M324.6 745.4v6.4M324.8 732.6v2.5M324.9 745.5v2.1M325.6 735.9v4.7M325.6 735.6v2.4M325.7 753.0v2.7M325.7 737.4v5.7M325.7 748.5v2.4M326.6 737.1v2.8M327.0 734.6v2.3M327.1 743.1v4.9M327.2 718.0v4.1M327.2 738.7v2.5M327.6 737.7v2.2M327.6 736.7v3.2M327.6 751.4v5.4M328.3 752.1v3.4M328.3 750.8v3.0M328.7 744.8v4.1M328.7 761.8v6.1M328.9 751.3v5.6M329.3 727.3v3.1M329.6 747.3v4.5M329.6 735.2v5.4M330.0 754.5v1.8M330.1 736.5v6.1M331.8 739.7v1.6M332.2 738.5v2.7M332.3 721.9v5.0M332.4 737.7v6.4M332.6 733.6v4.2M332.8 743.0v3.6M333.3 737.7v6.2M333.4 724.5v4.4M333.5 747.4v2.2M333.6 732.7v3.3M333.8 743.7v3.0M333.9 753.8v3.4M334.0 740.7v1.8M334.4 741.7v4.5M334.5 743.5v4.8M334.7 744.0v4.0M334.7 739.0v4.5M335.0 739.9v5.2M335.2 738.0v3.4M335.7 744.0v5.5M335.9 744.7v4.6M336.0 745.2v2.7M336.1 733.0v4.8M336.3 732.0v6.0M336.8 728.3v6.4M336.9 735.7v2.6M336.9 728.5v2.6M337.0 731.4v2.0M337.1 770.1v5.1M337.3 737.2v2.5M337.3 741.6v1.9M337.5 719.6v3.1M337.5 733.9v4.6M337.6 726.4v2.9M337.8 736.4v3.5M338.1 725.0v4.5M338.4 738.1v6.0M338.5 725.8v3.0M338.9 725.7v6.1M338.9 742.0v2.2M339.4 736.7v5.1M339.9 740.5v2.9M340.3 742.8v2.0M340.3 750.1v3.6M340.5 730.0v6.4M340.6 747.3v2.5M340.7 731.8v2.9M341.0 724.9v5.0M341.2 745.3v5.5M341.3 734.3v3.9M341.4 743.9v3.4M341.6 734.9v3.7M341.8 727.8v3.4M341.8 731.0v6.3M342.0 734.0v2.6M342.8 746.6v2.1M343.0 744.9v5.0M343.3 738.1v4.5M343.6 742.4v5.6M343.6 732.8v1.7M343.7 745.7v3.4M343.7 732.5v4.8M344.0 752.1v4.5M344.2 735.3v3.9M344.2 735.1v5.5M344.7 741.9v5.8M344.8 739.4v2.0M344.9 746.4v4.9M344.9 731.6v5.5M345.1 750.2v2.6M345.4 741.6v4.2M345.9 744.3v4.1M346.0 747.6v3.7M346.1 747.9v4.9M346.1 736.6v3.5M346.3 739.7v6.3M346.4 734.7v5.9M346.6 737.3v2.2M346.7 740.3v2.0M347.0 735.1v4.5M347.1 742.8v1.9M347.4 736.1v6.4M347.5 726.9v1.9M347.6 731.2v6.1M347.6 735.8v2.7M347.8 753.3v5.1M348.0 736.3v5.4M349.1 739.5v2.6M349.2 739.4v6.4M349.4 740.4v6.4M349.5 736.1v2.9M349.5 728.7v5.6M350.0 741.4v2.4M350.0 735.8v6.4M350.4 747.7v1.9M350.7 733.5v5.3M350.7 741.5v5.3M350.8 731.3v6.3M351.4 730.6v4.8M351.6 736.0v5.8M352.1 738.0v5.0M352.1 742.0v3.5M352.2 738.1v1.5M352.4 726.8v5.3M352.6 729.3v3.4M353.5 739.6v2.8M354.3 739.7v3.3M354.6 738.8v3.3M354.7 753.8v3.7M355.0 729.3v6.2M355.0 733.2v4.6M355.2 731.8v5.7M355.3 735.3v6.4M355.4 733.4v2.4M355.5 745.0v3.8M355.9 742.0v5.3M356.2 719.0v5.7M356.3 730.8v3.9M356.4 742.8v2.2M356.4 739.7v6.5M356.6 739.4v1.7M356.7 725.3v3.6M357.3 734.3v6.5M357.5 725.1v4.7M357.6 748.2v4.8M357.7 727.7v2.4M358.1 737.7v3.3M358.1 738.5v6.0M358.2 740.7v3.7M358.5 734.9v4.8M358.9 737.2v1.5M358.9 724.6v2.3M358.9 738.2v4.3M359.6 730.2v3.2M360.2 738.2v2.7M360.3 741.0v4.8M361.0 739.5v6.3M361.2 729.4v4.9M362.0 738.7v4.9M362.0 730.1v6.3M362.6 725.4v1.7M362.6 735.4v3.2M362.8 723.3v2.1M363.2 733.4v3.4M363.4 730.4v3.6M363.5 736.3v4.5M364.0 751.0v2.4M364.2 732.5v3.8M364.8 748.9v4.6M364.9 723.1v1.7M365.2 738.1v4.8M365.3 744.1v2.7M365.5 741.5v4.0M365.8 743.5v2.3M365.8 749.2v5.7M366.0 741.9v1.8M366.1 736.1v4.7M366.2 726.0v5.3M366.4 743.8v3.2M366.4 743.2v4.8M366.4 730.3v2.0M366.6 739.5v5.2M366.8 725.8v1.6M366.9 739.8v3.8M367.2 725.8v6.0M367.5 755.1v3.2M367.9 738.5v2.6M368.2 737.8v2.1M368.7 731.7v3.6M369.7 725.0v2.3M370.0 748.1v3.3M370.1 722.9v6.4M371.5 740.7v3.7M371.6 732.7v5.3M371.7 732.3v5.8M371.9 740.6v5.6M372.0 744.7v1.7M372.2 746.7v3.8M372.2 738.5v4.1M372.3 748.0v3.5M372.4 741.9v4.1M372.4 742.5v2.0M372.5 731.1v3.8M372.5 743.4v3.5M372.6 735.5v3.8M372.7 723.1v4.3M373.1 746.0v5.5M373.7 739.7v2.7M374.7 732.3v5.4M375.2 739.7v2.8M375.2 742.7v2.5M376.0 747.8v5.5M376.2 734.9v6.0M376.5 733.1v6.0M377.1 742.6v6.2M377.3 739.3v2.2M377.4 744.5v3.5M377.8 727.3v4.5M377.8 733.9v4.9M377.8 734.9v4.7M379.0 730.9v4.6M379.0 730.8v4.5M379.0 733.3v2.9M379.3 726.0v3.4M379.4 733.8v6.4M379.5 736.4v4.9M379.8 735.3v3.3M379.8 732.0v6.2M380.1 733.6v5.0M380.4 734.3v6.5M380.6 754.4v1.8M380.7 740.9v3.5M380.7 738.9v5.4M381.3 738.7v2.5M381.7 728.2v2.4M382.0 742.5v5.6M382.1 739.7v1.9M382.2 724.3v5.6M382.2 730.6v2.0M382.8 746.1v4.9M383.8 735.6v5.3M384.0 737.9v4.8M384.1 733.3v3.5M384.6 736.6v5.5M384.7 730.2v4.4M384.8 723.8v4.7M384.9 750.3v4.7M384.9 743.3v5.8M385.1 734.7v4.0M385.2 745.9v4.3M385.3 726.0v4.7M385.3 735.9v5.5M385.5 739.9v5.7M386.0 741.7v4.3M386.1 736.5v2.1M386.7 743.9v6.2M386.8 724.7v2.5M387.0 732.5v1.7M387.0 757.5v2.5M387.1 745.1v3.5M387.4 744.0v2.4M387.6 738.6v3.7M387.9 740.1v2.2M387.9 739.9v3.2M387.9 736.8v4.5M388.3 743.4v3.4M388.6 739.3v5.1M389.0 734.2v5.1M389.1 746.3v2.0M389.8 735.2v5.0M390.0 731.0v6.3M390.4 733.9v5.8M390.5 731.3v5.8M390.5 730.0v5.7M390.6 734.2v4.7M390.9 730.3v1.7M390.9 759.4v5.8M391.2 740.5v2.8M391.3 739.0v2.1M391.4 728.1v5.5M391.7 741.1v5.8M392.0 730.6v4.8M392.4 749.2v2.6M392.4 749.8v6.1M392.6 729.9v5.0M392.7 728.6v6.1M393.5 744.9v3.8M393.5 744.0v2.6M394.4 734.6v6.1M394.7 739.3v4.8M395.0 726.7v3.7M395.5 732.8v2.3M395.7 753.2v5.3M395.8 735.9v1.6M396.4 743.1v2.9M396.9 754.6v2.8M396.9 737.7v4.0M397.0 746.8v6.2M397.2 751.4v1.6M397.2 740.5v5.2M397.5 741.3v3.6M397.6 741.7v2.3M397.7 737.7v2.3M398.4 734.2v6.3M398.7 751.8v4.0M399.5 748.5v4.1M399.5 729.4v4.4M399.5 736.1v3.6M399.8 735.1v2.0M400.2 754.5v5.9M400.4 740.1v6.1M400.4 738.1v4.5M400.4 733.3v2.2M400.7 747.0v3.2M401.0 734.6v6.0M401.0 732.4v5.6M401.0 728.3v5.6M401.2 739.7v6.2M401.4 740.8v6.5M401.4 749.4v1.6M401.8 737.1v3.9M401.9 731.1v4.9M402.1 726.9v6.2M402.1 738.0v4.5M402.2 750.3v6.3M402.4 748.7v1.8M402.4 737.8v2.0M402.9 736.7v3.6M402.9 732.5v6.2M403.2 726.8v1.9M403.2 760.2v5.2M403.3 733.7v3.0M403.4 738.6v1.9M403.8 737.4v3.1M404.4 731.1v2.8M404.7 732.4v5.7M405.2 743.4v5.1M405.2 739.8v2.8M406.9 722.7v5.7M407.2 733.1v6.3M407.8 738.5v3.8M407.8 746.4v4.9M408.0 731.1v2.4M408.2 727.9v6.1M408.3 736.5v1.9M408.6 718.1v6.3M408.8 746.6v6.2M408.9 748.1v5.1M409.1 729.7v6.1M409.4 725.9v2.0M409.6 735.7v4.8M409.6 728.6v3.3M409.6 728.4v4.1M409.7 734.2v2.1M409.9 742.9v5.1M410.1 723.2v2.0M410.2 732.8v3.5M410.5 728.6v2.5M410.7 730.9v5.6M410.7 730.7v2.7M410.8 737.6v2.8M411.8 741.4v6.1M412.1 727.6v4.9M412.2 738.6v2.9M412.2 737.2v2.7M412.6 742.9v6.0M413.5 737.4v4.3M413.5 725.9v5.8M413.6 735.6v1.7M413.7 729.8v4.2M414.0 739.5v3.0M414.5 726.8v2.5M414.7 745.3v3.8M414.8 735.8v3.7M415.4 728.2v5.5M415.5 738.7v4.2M415.6 727.1v2.1M415.6 733.1v6.0M415.7 729.5v5.2M415.8 740.0v6.5M416.1 733.3v3.4M416.2 739.0v6.2M416.3 727.5v5.0M416.9 725.3v2.1M417.6 731.1v3.4M417.7 727.3v4.8M417.7 728.7v3.3M418.0 734.4v2.0M418.0 755.2v1.5M418.1 736.3v3.1M418.3 736.0v1.7M418.7 748.3v5.7M418.8 729.4v2.9M418.9 739.5v5.6M419.1 737.4v3.5M419.5 725.6v3.7M419.6 722.7v6.2M419.7 733.7v4.8M419.7 725.1v5.7M419.8 743.6v5.6M419.8 727.5v4.8M419.8 734.2v4.0M419.9 726.6v3.5M420.0 752.2v3.3M420.1 745.4v3.5M420.1 728.0v1.9M420.8 727.4v5.9M421.5 732.0v3.0M421.5 729.5v3.7M421.7 726.3v5.7M421.7 743.0v2.0M421.9 735.4v1.9M423.4 727.2v5.2M423.6 737.7v4.7M423.8 750.6v4.6M424.0 743.0v1.7M424.8 732.0v4.0M425.1 736.4v5.4M425.5 731.5v3.4M425.5 749.2v2.2M425.6 739.5v3.3M425.8 728.0v5.9M426.4 731.5v2.6M427.0 737.7v2.0M427.3 746.5v5.8M427.5 730.0v2.5M427.7 749.2v4.8M428.1 735.4v4.9M428.1 742.6v6.2M428.4 726.0v5.3M429.4 734.7v4.7M429.6 747.8v5.6M429.8 739.5v5.8M430.0 727.1v1.8M430.0 737.5v2.2M430.1 742.4v4.4M430.2 740.5v3.2M430.3 734.2v5.1M430.3 734.6v2.8M430.4 727.2v4.8M430.7 732.5v3.5M430.8 749.6v6.0M431.0 733.2v4.0M431.1 739.2v4.0M431.5 736.9v5.9M431.8 732.7v3.5M431.9 736.6v5.8M432.4 736.5v1.9M432.6 744.9v3.4M432.7 725.6v5.5M432.8 735.5v4.3M433.1 758.4v6.2M433.3 734.9v1.7M434.0 739.9v3.4M434.1 739.8v4.9M434.1 734.4v5.1M434.2 728.2v1.7M434.5 746.2v2.9M434.8 748.4v4.2M436.0 745.7v5.4M436.6 746.1v5.7M436.9 744.6v3.3M437.3 734.2v6.2M437.4 728.2v6.3M437.6 737.8v5.1M437.6 746.1v1.6M437.6 739.1v3.9M437.7 720.0v4.4M437.8 717.5v5.1M438.1 733.9v5.3M438.1 737.6v4.1M438.2 742.6v3.8M438.6 727.5v3.5M438.6 747.5v4.1M438.7 736.3v4.1M438.8 733.0v4.7M438.9 737.7v5.5M439.2 724.5v5.4M439.4 739.8v4.3M440.6 742.1v6.2M440.7 729.4v5.3M440.7 745.7v5.0M441.1 736.1v5.6M441.1 728.3v5.6M441.1 733.1v4.7M441.2 738.1v2.9M441.6 729.7v5.9M441.6 734.1v4.5M441.6 737.7v5.5M442.0 729.3v4.8M442.1 735.3v2.1M442.1 728.6v5.2M442.2 744.2v6.0M442.4 731.3v1.9M442.6 734.8v3.2M442.6 717.2v4.1M442.6 720.6v3.5M442.6 751.0v1.8M443.4 735.7v5.1M444.1 747.4v4.7M444.1 731.5v5.0M444.4 730.4v4.7M444.7 740.2v5.4M444.8 734.1v5.8M445.0 737.2v4.1M445.2 737.2v3.0M445.4 738.2v3.7M445.6 731.3v3.8M445.9 714.2v1.7M445.9 738.2v5.6M446.0 740.6v4.7M446.2 741.1v3.5M446.2 731.2v3.5M446.3 723.2v3.4M446.4 725.2v5.4M446.7 729.9v6.2M446.7 728.8v5.9M446.9 726.2v5.8M447.3 740.2v6.3M447.3 742.5v3.5M447.3 739.4v3.2M447.7 725.7v1.8M448.0 754.0v2.2M448.2 736.4v2.6M448.3 732.6v4.1M448.7 729.6v3.6M449.2 736.0v4.8M449.2 721.3v2.7M449.3 748.8v3.4M449.3 731.5v2.2M449.4 737.5v5.1M450.1 731.8v5.4M450.2 743.5v5.5M450.7 731.2v1.7M450.7 753.5v5.5M451.3 740.9v1.7M451.5 727.4v5.1M451.5 736.7v5.7M452.2 731.7v2.8M452.9 741.9v5.8M452.9 733.4v3.6M453.0 747.7v4.5M453.7 734.0v2.6M453.9 721.0v2.9M454.1 739.7v2.4M454.1 731.6v2.1M454.5 744.1v5.8M454.7 728.0v3.4M454.8 745.9v5.3M454.9 740.3v2.8M455.4 742.8v6.2M455.5 745.0v5.5M455.7 738.1v5.4M456.1 738.4v1.6M456.3 726.4v5.9M456.3 737.0v4.1M456.5 740.1v2.5M456.6 740.2v4.4M456.7 736.3v2.3M456.8 732.7v2.6M457.0 725.1v3.0M457.4 731.8v3.7M457.7 746.3v4.9M458.2 739.3v2.5M458.4 740.3v3.7M458.7 739.7v4.9M458.9 758.5v6.4M459.1 732.6v6.2M460.4 726.7v4.8M460.4 740.5v2.9M460.6 748.6v1.9M460.8 733.7v6.0M461.0 736.6v6.4M461.2 731.0v4.1M461.2 740.6v2.7M461.5 752.2v2.5M461.6 734.0v4.1M461.8 726.0v2.7M462.5 743.0v3.3M462.8 720.6v6.0M462.9 727.0v2.4M463.2 744.8v5.8M463.3 721.6v3.3M463.3 734.0v5.8M463.5 730.5v3.9M463.6 733.8v1.6M463.7 742.7v4.9M463.8 737.7v2.0M464.0 725.6v6.3M464.1 734.7v1.5M464.4 744.6v5.0M464.8 729.5v4.5M464.9 743.0v3.5M465.0 735.8v5.5M465.6 735.4v3.1M465.6 737.7v4.1M465.8 725.0v4.6M466.0 759.8v4.0M466.2 745.4v2.0M466.8 741.2v5.8M467.0 728.1v3.3M467.0 741.2v1.5M467.0 740.4v2.5M467.2 727.3v6.2M467.2 729.7v2.0M467.7 738.7v5.0M469.2 736.0v6.2M469.6 744.1v2.3M469.8 753.6v2.3M470.6 741.3v4.8M470.9 724.2v4.2M471.5 737.7v6.5M472.5 739.3v2.7M472.6 747.3v5.6M473.0 733.6v4.2M473.0 740.8v3.9M473.2 735.3v2.8M474.2 743.4v3.8M474.3 738.3v5.1M474.3 743.3v1.6M474.5 736.9v2.6M474.5 737.2v2.6M474.7 734.2v6.4M474.8 735.2v4.1M476.1 747.3v5.2M476.2 737.7v4.1M476.4 734.8v5.4M476.8 748.6v6.3M477.2 733.1v3.3M477.2 738.4v3.1M477.3 732.5v4.7M477.3 741.4v3.9M477.4 736.6v1.8M477.4 733.8v3.2M477.6 733.3v2.1M477.7 729.4v2.3M478.6 731.1v5.6M478.6 734.2v2.7M478.8 736.5v2.3M479.0 733.1v2.1M479.5 729.0v6.5M479.9 732.8v6.3M480.2 741.0v2.6M480.2 732.9v4.4M480.2 740.5v5.0M480.6 735.1v3.0M480.8 713.2v2.6M480.9 722.7v2.9M481.5 742.8v3.0M482.1 741.5v5.1M482.2 750.6v1.8M482.4 738.2v1.9M482.5 742.1v4.8M482.5 738.2v5.2M482.7 742.8v5.8M482.8 738.9v6.1M482.9 741.8v6.0M483.6 727.2v6.5M483.9 726.8v2.9M484.1 730.4v4.1M484.2 736.3v2.4M484.6 737.6v5.6M484.7 739.8v5.2M485.0 740.7v3.0M485.2 740.6v4.8M485.3 740.6v4.3M485.4 745.9v1.6M485.7 744.7v2.7M485.9 730.3v2.9M486.0 737.0v5.4M486.0 735.5v5.3M486.1 735.3v4.3M486.2 751.5v6.4M487.2 740.4v5.7M487.3 734.0v5.9M487.5 740.6v2.3M487.6 735.8v2.5M488.3 742.8v2.6M488.4 724.8v3.5M488.7 721.8v5.4M488.8 739.2v3.2M488.9 739.6v6.2M489.0 717.1v4.9M489.0 731.6v3.4M489.1 730.2v6.0M489.1 735.3v5.4M489.2 745.2v2.8M489.3 739.1v2.8M489.5 738.8v1.5M489.7 740.4v3.4M489.8 732.5v3.1M489.9 736.5v4.4M489.9 728.0v4.0M490.5 729.3v2.0M490.8 732.7v5.8M491.4 741.5v6.4M491.4 749.1v4.2M491.8 741.8v4.2M491.9 726.3v3.6M492.5 724.3v6.0M492.6 747.5v1.6M492.9 748.2v1.9M493.6 742.6v2.2M493.9 729.1v5.2M494.0 722.1v1.6M494.0 742.1v6.2M494.4 749.8v2.6M494.5 745.7v3.8M494.6 736.2v3.9M494.7 720.8v5.6M495.1 719.6v4.7M495.3 739.4v3.0M495.5 756.1v3.9M495.8 738.2v5.5M495.8 737.4v5.6M495.9 747.7v6.2M496.1 738.6v2.5M510.5 741.8v5.8M510.6 739.9v6.2M510.7 732.1v3.0M510.9 724.5v4.4M511.0 735.8v5.5M511.5 733.8v5.5M511.5 730.2v5.2M511.8 743.2v1.8M511.9 746.3v5.7M512.0 718.5v2.7M512.3 747.2v3.0M512.4 746.3v3.8M512.4 736.7v1.7M512.8 744.9v4.8M512.8 726.8v3.4M512.8 726.0v2.3M513.0 721.8v3.9M513.1 743.0v5.7M513.1 727.1v6.4M513.4 752.0v2.0M514.7 739.0v5.3M514.7 745.9v5.0M514.8 742.4v5.2M515.0 747.4v2.1M515.1 730.9v3.1M515.3 744.5v2.0M516.1 755.1v2.5M516.2 736.4v6.1M516.4 752.3v3.0M516.5 749.9v5.7M516.7 739.4v1.6M516.9 749.2v3.2M516.9 745.7v4.9M516.9 750.0v1.6M517.0 748.4v3.0M517.0 754.8v4.2M517.5 743.3v4.8M517.5 742.3v3.3M518.0 732.6v2.2M518.5 763.7v2.2M518.5 732.9v3.7M518.9 723.7v3.3M519.0 739.5v2.3M519.1 738.9v2.6M519.2 731.7v2.3M519.4 733.4v5.9M519.6 743.9v3.9M520.5 739.6v2.0M520.8 736.3v3.1M521.1 744.1v2.2M521.5 738.9v4.0M521.7 747.3v3.9M521.7 751.0v3.4M522.0 738.0v5.4M522.3 727.1v4.1M522.5 728.7v3.3M522.6 741.4v5.8M523.3 739.6v3.2M523.7 744.0v1.9M523.8 730.1v2.7M524.3 742.4v4.2M525.2 718.8v5.8M525.4 725.6v3.3M525.5 739.2v6.5M525.8 738.7v4.1M525.8 735.2v2.0M526.3 729.9v3.1M526.4 729.3v3.9M526.5 727.0v2.9M527.0 738.9v4.2M527.5 733.0v4.7M527.5 736.1v5.6M527.6 751.3v6.1M527.7 729.3v4.3M528.2 725.3v2.1M528.3 735.0v6.2M528.6 731.5v4.4M528.7 725.0v5.7M528.8 737.9v2.5M528.8 749.3v3.6M529.1 736.6v5.3M529.2 729.6v3.0M529.3 730.6v3.1M529.3 730.2v4.7M529.3 728.6v5.8M529.6 723.2v3.8M529.9 719.2v5.1M529.9 739.1v4.3M542.3 732.4v3.4M542.4 744.7v4.2M542.5 744.5v3.9M542.7 736.4v6.1M543.5 741.9v6.4M543.7 725.9v5.0M544.1 750.4v1.7M544.3 734.0v4.9M544.4 751.6v3.3M544.6 742.9v4.2M544.8 734.2v3.3M544.9 746.1v4.8M544.9 729.9v4.1M545.0 728.0v2.3M545.1 726.2v4.9M545.7 739.2v5.6M545.7 729.1v3.7M545.8 736.9v5.1M545.9 728.0v2.6M546.1 742.0v3.2M546.3 740.7v4.3M546.5 739.2v4.2M546.7 733.2v3.7M546.9 733.3v2.2M547.4 735.9v5.3M547.5 726.7v2.5M547.6 733.5v6.5M547.8 721.0v4.0M548.0 737.2v4.3M548.4 731.3v3.3M548.6 737.0v2.4M549.0 734.4v4.4M549.0 740.0v1.6M549.2 739.2v6.2M549.3 735.2v5.1M549.5 734.4v2.2M549.6 744.6v2.5M550.1 735.4v4.5M550.1 748.9v2.4M550.1 737.5v2.6M550.6 737.2v2.3M550.7 736.1v2.0M551.0 734.1v2.0M551.2 725.9v2.1M551.2 738.6v4.9M551.3 734.6v5.3M551.3 728.1v1.9M551.5 733.5v6.5M551.6 747.5v3.4M551.9 720.8v2.0M552.7 742.8v2.0M552.9 757.0v5.0M553.3 746.4v2.2M553.5 731.3v5.9M553.5 715.3v5.8M553.7 728.9v1.8M553.8 729.3v1.7M553.9 732.0v3.1M554.1 727.5v4.4M554.1 742.7v3.1M554.3 748.1v3.5M554.7 750.8v2.8M554.8 730.7v4.7M555.1 742.5v1.6M555.1 732.2v4.6M555.2 738.5v2.3M555.2 724.8v1.8M555.5 718.9v5.5M556.1 742.8v4.5M556.2 730.7v2.2M556.4 736.2v3.6M556.5 737.1v2.6M556.6 731.1v5.2M556.7 736.1v5.0M556.8 723.0v5.7M556.9 742.2v3.7M556.9 738.1v2.9M557.1 734.8v5.5M557.7 737.2v3.1M557.7 738.0v3.4M557.8 733.6v5.7M558.0 740.5v4.7M558.0 731.2v3.5M558.3 754.2v5.1M558.4 739.2v2.1M558.7 738.6v1.7M558.9 730.0v6.0M559.0 744.9v1.7M559.3 728.9v6.1M559.4 736.2v5.6M559.4 724.5v4.7M559.4 730.7v6.4M559.4 724.2v2.8M559.5 743.4v3.4M559.6 752.4v5.8M559.8 753.1v5.4M559.9 730.6v1.8M560.0 732.1v4.9M560.2 746.8v1.8M560.3 731.9v4.0M560.9 718.4v3.7M561.1 735.4v2.2M561.5 733.1v4.6M561.6 730.7v2.4M561.8 735.9v3.7M561.9 745.4v2.2M563.0 721.7v5.8M563.0 726.4v3.3M563.1 724.2v3.6M563.3 721.7v5.8M563.3 729.7v6.1M563.8 748.0v4.6M563.9 739.2v5.2M564.0 730.9v5.3M564.2 724.5v5.2M564.5 736.2v2.6M564.6 729.9v3.6M564.7 728.3v5.9M564.8 736.4v3.7M564.9 724.5v3.6M564.9 717.3v4.1M565.4 717.1v4.0M565.8 726.6v3.6M565.9 728.3v5.9M566.3 734.5v2.9M566.3 735.7v5.8M566.9 721.1v2.5M567.0 738.9v3.1M567.2 747.7v5.4M567.9 737.0v4.0M568.4 744.5v3.8M568.5 727.6v4.0M568.7 733.8v3.6M568.7 723.3v4.2M569.2 730.4v5.3M569.2 729.6v2.3M569.3 728.7v4.5M569.4 711.9v1.9M569.5 738.3v5.0M569.7 734.5v4.2M569.8 749.6v3.5M569.8 727.2v3.5M569.9 717.1v4.1M570.0 727.6v3.9M570.6 749.7v5.4M570.8 733.8v2.4M570.9 746.8v3.0M571.0 735.7v6.5M571.1 732.9v3.4M571.2 733.7v2.6M571.5 735.7v2.6M571.6 734.1v4.3M571.6 722.3v6.0M571.8 731.0v5.0M572.8 736.1v3.5M573.3 728.8v4.4M573.6 736.8v2.9M573.6 733.0v1.9M573.8 728.8v5.2M575.4 727.3v4.3M575.6 756.2v1.7M576.0 737.3v1.6M576.4 742.8v4.2M576.5 743.7v2.1M577.0 736.9v6.3M577.2 742.9v3.5M577.3 749.9v2.8M577.7 742.0v2.5M577.8 729.9v3.7M577.8 752.7v4.2M577.8 736.4v6.0M578.0 729.0v5.8M578.1 748.7v4.1M578.4 737.5v3.3M578.8 746.3v2.8M578.9 740.5v3.7M579.1 736.5v5.5M579.5 743.5v4.9M579.6 742.7v2.7M579.6 739.6v5.5M579.7 744.4v1.7M580.3 749.7v2.9M581.0 728.1v2.5M581.6 747.1v4.9M581.8 737.5v3.2M581.8 724.6v2.7M581.8 743.3v2.6M582.0 737.8v6.4M582.1 741.8v5.6M582.2 737.6v3.4M582.3 750.0v2.3M582.3 734.1v3.6M582.6 738.9v3.8M582.8 749.8v2.8M582.9 732.3v6.4M583.1 729.6v4.2M583.8 734.2v5.2M584.0 733.3v4.6M584.0 732.7v1.8M584.1 747.7v2.6M584.2 758.4v2.7M584.6 735.9v5.6M584.8 734.9v4.2M585.0 725.8v2.6M585.1 730.7v5.6M585.3 739.5v2.8M585.4 737.5v4.2M587.1 730.4v4.2M587.3 742.7v4.7M587.3 741.3v3.8M587.4 734.4v2.2M587.4 721.9v5.5M587.6 732.4v4.6M587.8 739.9v6.4M588.1 733.7v6.2M588.1 735.9v2.1M588.2 739.5v1.7M588.3 734.9v2.9M588.6 740.0v2.8M589.0 738.9v5.3M589.1 747.0v5.6M589.5 740.8v5.9M589.6 735.3v6.1M590.0 740.9v5.3M590.1 725.5v4.8M590.2 743.8v4.6M590.4 739.3v1.7M590.6 748.8v5.4M590.6 729.2v6.1M590.7 737.3v5.1M590.9 738.6v6.0M590.9 729.9v6.4M591.0 750.0v2.5M591.1 735.3v5.7M591.1 741.1v2.1M591.3 749.5v2.2M592.0 732.6v4.7M592.0 744.5v1.8M592.1 754.7v5.4M592.2 736.1v6.3M592.3 725.2v3.1M593.4 743.7v6.1M593.7 744.4v2.4M593.7 746.2v5.3M594.2 734.6v3.4M594.3 736.3v2.2M594.5 721.8v3.1M594.6 743.4v4.2M595.0 736.1v5.8M595.0 741.9v2.6M595.2 730.2v4.8M595.7 733.7v4.1M595.8 729.0v3.3M595.9 760.3v2.3M596.2 745.4v2.2M597.3 743.6v2.7M597.4 736.7v3.8M597.5 739.7v4.5M597.8 737.1v2.4M598.2 741.6v6.1M598.3 736.1v6.0M598.3 745.2v3.3M598.6 746.9v5.4M598.8 718.6v4.3M599.2 754.2v2.6M599.5 734.8v5.6M599.6 748.5v2.5M599.8 750.8v4.5M600.0 752.9v5.0M600.1 733.9v4.5M600.5 735.6v2.8M600.7 737.2v5.1M600.7 730.5v2.3M601.0 728.9v5.7M601.0 734.8v1.8M601.0 751.7v4.8M601.0 730.6v6.1M601.1 743.7v2.3M601.1 745.0v5.5M601.2 733.6v4.3M601.4 745.9v4.0M602.2 733.9v3.7M602.2 742.5v3.5M602.2 736.0v3.2M602.4 725.7v5.7M602.5 741.9v3.5M602.5 737.6v3.9M602.6 741.4v3.0M602.8 748.0v5.0M603.2 730.8v4.8M603.6 720.8v5.3M603.9 734.5v2.3M604.3 722.3v2.3M604.5 738.1v3.0M604.6 731.1v2.2M604.6 745.3v6.3M604.7 732.8v3.4M604.9 731.7v6.3M605.1 738.7v3.9M605.2 736.8v2.2M605.2 744.3v3.2M605.6 734.9v2.1M605.6 740.3v5.0M605.7 734.3v2.5M605.8 736.9v4.6M606.1 732.1v5.5M606.1 734.0v3.3M606.2 741.8v3.1M606.2 752.8v2.4M606.3 739.5v2.2M606.9 741.6v2.3M607.0 733.6v6.2M609.1 746.3v6.4M609.4 741.9v5.3M609.5 738.7v4.9M609.7 729.7v3.8M609.9 737.5v4.8M610.2 736.0v2.0M610.4 722.5v1.7M610.4 730.3v4.0M611.1 738.4v2.6M611.9 748.9v5.2M612.1 730.6v3.2M612.5 746.5v4.6M612.6 744.0v3.9M613.0 740.3v6.2M613.0 735.1v2.5M613.1 736.1v4.4M613.7 736.5v5.6M613.9 752.7v2.2M614.0 739.9v5.9M614.7 735.4v2.5M614.7 751.7v2.1M614.9 728.3v4.5M615.1 745.4v2.6M615.1 725.3v3.9M615.2 743.9v6.2M615.3 731.3v3.1M615.4 720.1v6.3M615.5 722.5v3.0M615.6 745.3v3.0M616.0 728.7v6.4M616.1 738.6v4.2M616.1 731.7v5.9M616.2 736.4v2.5M616.3 733.2v4.8M616.3 744.3v4.4M616.4 725.5v5.1M616.4 724.2v5.7M616.5 746.1v4.5M616.5 748.1v5.9M616.9 733.4v3.2M616.9 739.5v2.6M617.2 735.9v3.3M617.2 732.1v2.0M618.3 715.0v5.7M618.6 740.4v6.4M618.7 741.4v4.3M618.7 748.9v5.9M618.7 728.9v2.5M618.8 736.4v2.3M619.1 728.5v3.3M619.3 743.9v3.8M619.3 744.4v2.7M619.6 736.8v4.1M619.7 729.0v3.5M619.7 745.3v1.7M619.9 722.5v6.4M620.3 742.1v5.9M620.4 738.7v4.1M620.6 740.4v5.7M620.8 734.5v3.6M621.2 723.2v6.2M621.2 739.2v2.9M621.4 713.8v5.5M621.4 731.7v2.1M621.5 747.6v2.2M621.9 739.4v3.3M621.9 727.1v2.6M622.2 717.9v5.4M622.4 726.2v1.9M622.4 716.1v5.0M623.1 732.3v3.5M623.2 746.2v4.6M623.5 724.9v4.5M623.7 725.8v2.4M624.3 714.6v1.9M624.6 739.5v3.3M624.6 730.5v1.7M625.1 726.5v3.3M625.8 725.4v3.7M626.1 723.1v2.7M626.3 727.3v6.3M626.4 717.5v5.4M626.7 743.3v3.4M627.0 731.2v4.9M627.4 738.4v1.7M627.6 751.0v2.3M627.7 735.5v3.5M628.0 729.3v1.5M628.0 732.4v1.8M628.1 725.6v6.5M628.6 737.9v1.8M629.0 746.5v4.7M629.4 736.2v2.6M629.8 733.7v1.7M630.1 739.2v1.5M630.6 736.2v1.8M630.8 737.9v2.3M631.0 727.0v5.2M631.1 732.4v3.9M631.4 740.7v6.2M631.5 737.0v3.1M631.8 738.1v5.3M632.0 730.7v2.9M632.0 727.5v6.2M632.3 725.1v5.5M632.3 732.1v3.6M633.0 743.8v6.3M633.2 739.4v4.0M633.4 734.9v2.5M633.4 744.1v3.3M633.6 739.5v5.5M633.8 745.0v1.5M634.2 725.0v2.3M634.3 738.5v4.7M634.3 736.2v3.5M634.3 728.5v2.4M634.5 735.3v2.3M634.7 732.5v3.5M634.7 736.6v2.9M634.8 737.1v2.5M634.8 741.2v4.0M634.9 734.2v6.0M635.0 717.5v2.9M635.1 728.2v5.9M635.6 725.7v4.7M635.6 737.6v6.4M635.8 740.1v6.4M635.9 735.1v2.5M636.0 737.1v4.2M636.0 732.0v4.8M636.0 739.6v4.9M637.4 735.7v2.9M637.5 750.3v4.2M637.6 737.9v5.7M638.0 729.6v4.9M638.1 736.5v3.3M638.1 746.3v2.2M638.3 730.9v3.4M638.5 728.8v2.8M639.1 719.2v5.6M639.6 728.3v6.1M640.7 734.7v5.0M641.1 738.0v1.7M641.4 721.1v3.4M641.6 744.0v2.8M641.7 744.4v3.7M641.7 728.4v2.8M641.9 735.6v4.5M642.0 737.4v5.5M642.0 731.4v2.9M642.1 728.8v4.9M642.2 730.0v2.6M642.4 736.9v1.7M642.8 738.9v5.7M643.1 729.6v2.8M643.3 729.1v6.1M643.7 744.8v3.4M643.9 730.5v5.6M644.1 741.2v3.7M644.2 739.2v4.2M644.5 749.2v4.3M644.6 732.5v6.2M644.9 731.5v1.8M645.2 716.3v6.0M645.3 727.2v4.6M645.5 733.5v4.8M645.8 737.4v3.9M645.9 742.3v4.1M646.0 747.2v5.6M646.4 746.8v5.2M647.1 729.5v3.7M647.2 741.8v3.4M647.5 742.9v2.9M647.8 742.1v4.4M648.1 737.9v5.2M648.9 739.2v6.2M649.4 727.1v2.6M650.0 736.3v2.6M650.1 737.8v4.6M650.2 745.7v2.9M650.2 738.7v2.0M650.3 735.1v4.3M650.4 752.3v4.5M650.5 731.5v5.8M650.8 756.1v2.6M651.1 726.9v5.7M651.2 722.9v3.7M651.2 725.9v5.4M651.3 730.2v2.9M651.4 735.7v3.7M651.5 716.6v4.5M651.5 739.1v6.0M651.9 741.9v2.4M651.9 724.6v6.4M652.0 716.9v5.7M652.4 730.6v2.9M652.5 731.3v3.8M652.5 733.4v4.8M652.5 727.5v3.6M652.8 728.4v2.8M653.0 729.7v2.9M653.1 723.0v4.3M653.2 742.3v3.6M653.2 741.4v1.8M653.3 730.2v4.6M653.4 725.1v3.1M653.4 742.2v1.9M653.5 727.8v6.4M653.5 732.1v5.5M653.8 739.9v5.4M654.1 750.2v4.3M655.0 736.6v2.1M655.0 732.3v5.6M655.0 740.2v2.5M655.5 746.2v5.5M655.7 746.5v2.4M656.0 761.5v2.6M656.0 741.7v5.7M656.1 733.7v2.6M656.3 750.0v3.1M656.4 752.3v6.1M656.5 745.8v4.6M656.8 737.1v2.4M657.0 749.5v4.1M657.2 735.4v5.2M657.3 750.8v2.0M657.7 737.2v3.1M657.8 724.1v5.6M658.4 740.1v2.7M659.1 744.3v4.7M659.3 737.4v3.6M659.7 739.4v3.7M659.7 737.3v5.8M660.4 737.2v4.3M661.0 735.4v4.5M661.2 743.3v1.7M661.2 753.2v3.5M661.2 745.8v6.2M661.2 743.8v2.6M661.3 756.2v5.7M661.4 741.5v5.4M661.9 746.4v2.3M661.9 733.4v4.2M662.1 749.2v2.9M662.3 746.0v4.9M662.3 743.5v3.4M662.4 743.3v5.8M662.6 743.9v1.9M662.8 736.0v1.6M664.4 740.3v3.6M664.6 739.8v1.8M665.0 748.8v3.4M665.4 737.6v4.0M665.6 735.0v2.0M665.7 739.3v4.6M665.7 759.1v1.6M665.8 744.3v2.5M666.0 739.0v3.8M666.4 730.2v5.3M666.5 733.4v4.7M666.5 735.1v5.9M666.8 737.9v3.3M666.9 737.9v6.3M667.4 735.3v3.1M667.5 730.3v2.2M667.8 728.1v4.4M667.9 738.0v3.2M668.0 742.2v4.9M668.1 736.3v4.6M668.7 739.8v2.0M669.1 728.3v5.9M669.6 725.6v4.3M670.3 734.6v2.3M670.4 737.3v3.3M670.5 732.4v2.5M670.8 735.0v4.7M670.9 720.6v6.2M670.9 742.5v1.8M671.1 734.2v2.9M671.7 724.7v5.0M671.9 746.9v2.3M672.1 752.3v4.7M672.2 731.4v5.0M672.3 728.6v4.3M672.3 728.5v1.9M672.5 720.4v5.8M672.5 723.0v5.3M672.7 732.9v1.8M672.9 736.2v5.3M672.9 719.6v2.5M673.2 732.6v3.5M673.3 721.5v5.0M673.5 721.9v5.7M673.5 733.5v5.5M673.8 722.7v3.6M674.0 735.1v2.7M674.2 743.0v3.7M674.4 735.7v6.4M674.6 724.0v3.1M674.9 728.9v5.8M674.9 730.9v6.3M675.0 731.6v5.6M675.1 725.1v4.0M675.1 745.5v6.0M675.5 728.3v1.8M676.1 723.8v2.0M676.1 713.3v3.1M676.6 729.7v3.6M676.8 741.0v2.5M676.9 741.5v2.0M677.0 732.9v5.5M677.0 720.5v5.3M677.1 732.6v5.1M677.3 734.8v1.7M677.4 722.0v5.0M677.9 737.7v2.9M678.3 728.4v6.1M678.3 750.5v4.6M678.4 738.5v2.8M678.5 739.7v3.1M679.0 734.7v1.5M679.1 728.4v6.1M679.2 741.3v2.0M679.3 728.7v2.4M679.3 737.8v4.1M679.5 730.4v4.0M679.7 729.4v6.1M679.8 750.6v6.0M680.4 727.9v2.1M680.5 731.3v4.6M680.7 745.1v2.7M680.7 734.4v5.4M681.3 725.9v6.5M681.4 718.0v5.7M681.5 731.6v6.0M681.8 732.8v2.7M681.8 737.9v2.9M681.9 738.2v1.6M682.0 737.1v5.9M682.8 739.8v2.6M682.9 740.0v5.2M683.1 738.3v5.7M683.2 733.1v6.2M683.3 734.5v2.2M683.3 724.9v4.2M683.7 736.2v2.1M684.2 730.0v4.1M684.3 744.1v4.2M684.7 743.0v6.2M684.8 736.0v2.1M685.1 728.6v2.4M685.1 710.5v5.8M685.9 734.5v5.2M686.5 744.8v2.2M687.1 733.9v4.6M687.4 758.5v3.4M687.4 734.7v4.1M687.8 760.8v2.7M687.9 738.8v5.4M688.7 735.5v5.2M690.2 739.9v1.7M690.6 740.4v3.9M690.7 732.4v5.5M690.8 734.3v5.3M691.4 734.8v2.6M691.4 741.7v3.5M691.5 736.2v3.8M691.6 733.1v4.5M691.7 725.1v4.6M691.7 738.1v5.6M691.8 730.6v5.3M691.9 734.1v4.0M691.9 736.8v5.2M692.0 733.7v1.9M692.5 745.5v1.8M692.6 739.2v4.9M692.7 737.0v6.1M692.9 741.4v3.3M693.1 738.2v5.8M693.2 722.6v5.3M693.2 737.6v3.3M693.6 742.1v3.2M693.6 730.2v3.0M693.9 729.7v5.0M694.5 746.3v3.3M694.6 744.0v4.2M694.7 749.7v1.7M694.8 737.4v4.3M695.0 738.4v6.3M695.3 738.6v3.6M695.4 744.9v5.8M695.4 740.8v2.1M695.5 745.7v3.2M695.6 728.3v5.6M695.7 731.8v2.4M696.3 753.4v6.4M696.4 743.4v6.4M696.7 747.5v2.6M696.8 745.8v2.8M697.2 734.3v5.8M697.3 735.7v5.1M697.4 756.4v1.8M697.9 741.8v6.5M698.0 729.5v5.0M698.3 742.0v4.7M698.4 743.4v4.9M698.6 733.3v5.3M698.8 735.2v2.3M698.9 734.0v6.4M699.1 735.8v5.6M699.2 741.0v2.1M699.2 738.2v5.4M699.6 743.4v5.0M699.8 734.8v4.3M699.8 742.2v6.2M700.1 744.0v3.7M700.2 736.2v3.2M700.4 739.7v6.2M700.7 728.5v2.2M701.1 739.3v6.2M701.2 727.1v6.2M701.5 737.9v4.8M701.8 735.7v3.9M701.9 736.1v2.0M702.4 736.9v1.8M702.5 735.5v4.6M702.7 737.8v1.8M702.9 728.8v4.8M703.7 742.9v6.3M704.4 728.0v5.6M704.5 747.0v4.9M705.1 735.3v4.5M705.2 733.3v1.8M705.3 723.3v1.5M705.8 740.3v4.8M706.1 734.0v5.8M706.2 732.0v4.8M706.2 747.3v4.6M706.6 735.9v1.6M706.9 726.1v5.2M707.2 756.4v1.9M707.2 738.2v2.0M707.4 728.6v4.9M707.5 745.1v3.1M707.6 736.3v2.1M707.9 753.4v2.6M708.0 723.3v1.5M708.8 734.1v1.9M709.2 739.6v2.9M709.3 744.0v6.2M709.4 739.7v2.0M709.5 738.9v2.5M709.6 734.7v6.0M709.7 724.4v6.0M709.7 727.9v5.3M710.3 734.2v1.5M710.4 738.9v5.3M710.5 744.8v3.3M710.8 731.1v1.5M710.8 738.7v3.5M710.8 734.6v3.2M711.1 728.8v4.9M711.2 745.0v4.0M711.7 749.5v2.6M712.0 742.2v5.7M712.0 737.0v2.0M712.1 731.5v4.4M712.6 728.5v6.1M713.4 729.6v6.3M715.3 732.8v5.6M715.5 731.0v3.5M715.6 729.5v4.1M715.6 748.2v6.0M715.8 744.9v2.0M715.8 738.9v3.7M716.1 735.7v4.7M716.3 736.1v4.2M716.7 748.4v5.2M716.7 740.3v2.4M717.2 742.4v5.5M717.5 733.1v5.7M717.6 730.1v5.4M718.3 729.7v2.1M718.5 730.0v4.9M718.5 736.0v2.1M718.5 724.8v5.0M718.8 743.9v4.8M719.2 730.7v2.2M719.2 733.5v2.6M719.6 731.0v2.7M719.6 743.3v3.0M719.7 740.0v3.5M719.8 726.0v4.8M719.9 736.3v2.1M720.3 738.2v5.5M720.3 736.8v2.3M720.6 728.1v3.3M721.2 720.9v3.9M721.4 734.3v6.3M721.5 732.8v5.9M721.5 725.3v6.3M722.0 727.9v2.4M722.2 742.2v2.6M722.4 747.4v5.6M723.4 737.0v2.3M723.4 726.4v5.1M724.3 724.7v5.0M724.6 722.1v4.2M724.9 741.8v2.6M724.9 739.7v5.4M725.1 740.4v3.2M725.2 741.8v6.4M725.6 737.9v5.0M725.8 724.8v4.1M725.9 741.3v4.4M726.3 733.3v2.6M726.4 727.8v5.4M726.5 736.5v4.1M726.6 745.0v3.0M726.9 731.5v1.6M727.0 743.6v4.9M727.0 737.3v6.1M727.4 726.4v2.3M727.6 747.2v4.6M728.2 739.1v4.8M728.2 738.3v4.4M728.3 750.0v2.2M728.6 757.8v3.6" stroke="#444" stroke-opacity="0.18" stroke-width="0.5" fill="none"/><path d="M61.9 728.5v2.7M62.0 727.2v1.8M62.2 735.7v2.7M62.6 735.3v4.4M62.8 729.7v2.1M62.9 742.5v3.6M63.0 735.5v3.3M63.2 727.1v3.8M63.2 736.7v1.9M63.6 735.4v3.4M63.8 735.2v5.4M64.1 743.8v4.3M64.2 736.0v5.5M64.5 741.7v5.1M65.0 738.6v4.6M65.3 739.4v4.3M65.7 743.0v3.7M65.7 742.9v2.1M65.8 736.5v5.7M65.9 732.8v4.0M65.9 743.9v3.7M65.9 731.6v6.5M66.0 743.4v4.4M66.4 733.5v3.1M66.8 743.7v5.3M66.9 749.0v1.7M67.1 729.8v3.3M67.4 731.4v4.6M67.6 727.4v3.3M67.9 735.6v2.3M68.1 738.7v3.8M68.5 741.3v1.9M68.7 737.3v4.1M68.9 749.6v3.7M69.2 730.5v4.5M69.5 735.7v5.2M69.5 734.4v4.3M69.6 725.6v6.0M69.8 733.8v4.4M69.9 748.9v4.7M70.1 720.6v5.9M70.4 736.1v4.2M70.4 733.6v3.4M70.5 743.1v2.8M70.9 746.6v1.6M71.1 736.0v4.6M71.1 728.6v6.0M71.3 726.1v2.5M71.7 723.6v1.9M71.8 736.6v3.0M72.0 741.3v5.7M72.3 750.7v4.3M72.3 742.8v2.5M72.7 733.0v5.1M72.7 730.1v4.8M73.1 732.0v5.5M73.4 725.0v5.3M73.5 735.5v4.8M73.7 735.4v6.0M74.3 752.9v2.0M74.3 754.4v3.5M74.8 740.9v2.0M74.9 726.5v2.4M75.0 739.8v5.8M75.1 732.4v5.3M75.3 727.5v6.3M75.4 746.4v4.4M76.0 717.6v5.9M76.2 734.8v5.1M76.2 722.5v2.8M76.4 729.1v4.5M76.5 732.0v3.6M76.7 727.8v2.6M77.1 739.7v5.9M77.3 775.2v1.9M77.6 741.7v3.8M78.4 732.9v4.0M78.4 723.0v1.9M78.7 739.3v2.4M79.0 744.9v4.1M79.3 734.0v3.8M79.4 737.4v2.9M80.0 743.4v4.2M80.2 728.0v4.8M80.3 728.8v4.6M80.4 724.1v6.4M80.5 728.6v2.6M80.5 733.4v3.9M80.7 736.1v2.1M80.8 740.6v3.7M80.9 743.3v3.3M80.9 732.8v3.9M81.1 735.0v3.3M81.5 723.0v2.3M81.6 738.7v6.1M81.7 738.3v4.7M81.9 730.1v2.6M81.9 716.6v5.1M82.1 715.0v2.8M82.1 735.4v5.9M82.1 729.6v2.3M82.4 735.4v4.5M82.5 735.0v2.1M82.8 734.2v5.6M83.6 744.7v5.1M83.6 745.8v2.1M84.2 736.9v5.0M84.3 730.9v6.4M84.4 722.5v1.7M85.1 739.1v2.3M85.7 715.7v5.6M85.7 727.9v2.6M86.0 728.3v6.5M86.1 734.4v1.6M86.2 736.4v2.7M86.9 733.5v3.5M87.0 740.1v1.7M87.0 731.5v2.0M87.2 726.1v2.8M87.3 737.8v2.8M87.5 712.7v3.6M87.6 728.3v6.5M88.0 746.3v1.9M88.4 734.7v3.2M88.5 727.0v5.5M88.6 744.2v3.8M88.9 740.2v2.3M89.5 746.5v4.2M89.5 731.9v2.4M89.5 737.3v4.0M89.7 739.8v2.2M90.0 738.0v3.2M90.1 733.6v6.2M90.3 734.0v4.8M90.3 735.9v6.1M90.3 750.0v4.3M90.5 725.0v2.0M90.6 742.6v2.4M90.8 740.5v6.4M90.8 743.3v5.4M90.9 731.9v5.3M91.0 730.7v6.2M91.1 735.2v5.7M91.4 736.5v1.8M91.5 733.0v3.6M91.7 742.1v3.6M91.8 741.3v3.8M91.8 731.1v5.0M92.3 734.9v3.5M92.4 735.9v1.7M92.8 740.4v4.3M93.1 734.2v2.2M93.2 738.3v5.1M93.3 750.8v2.2M93.6 743.7v2.6M93.7 731.2v6.0M94.1 728.3v3.3M94.2 733.4v3.4M94.2 724.5v4.2M94.9 727.2v5.6M96.0 742.6v3.9M96.0 745.1v3.6M96.4 740.0v2.1M96.7 739.4v4.8M96.8 744.2v5.8M97.6 734.7v3.3M97.7 731.2v1.8M98.0 727.1v1.7M98.2 731.6v4.8M98.4 716.9v5.4M98.5 749.9v2.5M98.8 735.5v2.2M99.2 754.4v5.6M99.3 729.3v3.2M99.3 744.8v2.9M99.4 731.9v5.7M100.0 734.1v1.6M100.2 739.5v3.8M100.4 736.5v1.9M100.5 735.7v6.4M100.9 729.4v3.0M100.9 756.3v2.5M100.9 742.4v5.0M101.3 744.7v5.1M101.3 736.8v5.5M101.4 732.0v4.6M102.0 746.1v3.4M102.5 745.4v3.8M103.0 729.3v6.2M103.0 719.6v6.3M103.2 736.0v2.7M103.3 737.2v6.1M103.4 724.4v1.8M103.6 738.3v3.5M103.8 738.0v4.9M103.8 731.6v6.2M103.8 747.9v4.9M103.8 734.5v3.2M104.1 733.7v5.3M104.5 724.1v2.1M104.8 736.4v3.1M105.1 710.5v5.7M105.1 728.2v5.6M106.0 742.0v4.5M106.1 723.8v5.6M107.0 728.6v2.0M107.1 741.5v6.0M107.1 737.2v4.9M107.4 733.6v6.2M107.4 740.9v2.3M107.5 740.4v3.5M108.0 719.2v5.5M108.7 730.6v5.3M109.0 731.1v4.6M109.2 729.7v4.4M109.2 730.8v3.3M109.2 739.2v3.9M109.4 749.6v4.3M109.5 729.4v1.9M109.9 724.0v5.3M110.3 734.1v3.2M110.4 732.6v1.9M110.5 737.6v2.2M110.5 731.2v6.5M110.8 732.9v6.0M110.9 738.0v5.0M111.2 741.2v4.0M111.4 727.0v3.1M111.6 737.0v4.9M111.7 742.5v4.7M112.0 722.8v5.1M112.1 733.0v2.5M112.1 734.2v3.1M112.1 752.1v5.7M112.2 736.3v5.2M114.6 729.3v4.7M114.8 726.9v5.2M115.1 719.2v4.7M115.4 729.3v2.6M115.5 748.1v2.4M115.7 734.9v3.0M115.8 749.1v3.1M116.4 734.0v3.1M116.6 741.1v2.4M116.8 739.7v2.8M116.9 734.3v3.0M116.9 743.8v4.9M117.0 734.1v3.7M117.3 732.7v3.1M117.8 730.9v2.9M117.9 728.8v6.4M118.5 735.8v3.3M118.5 729.2v3.2M118.7 744.6v4.9M119.4 747.6v3.2M119.5 737.9v1.7M120.1 723.4v3.0M120.1 733.1v4.4M120.1 725.3v6.4M120.2 733.9v3.9M120.3 733.4v3.3M120.4 731.1v1.8M120.7 732.7v5.9M121.1 734.1v4.4M121.3 735.7v2.8M121.4 742.5v4.4M121.6 743.9v2.3M121.7 723.8v1.8M121.8 742.8v3.6M122.0 731.6v2.7M122.1 731.6v3.0M122.2 748.6v2.8M123.0 728.4v3.7M123.1 736.4v4.6M123.3 725.0v3.9M124.0 727.8v1.5M124.1 749.0v5.9M124.5 750.3v6.2M124.7 727.8v3.1M125.2 725.4v2.0M125.3 744.2v2.0M125.4 744.9v4.0M125.6 747.5v3.8M125.7 738.2v1.9M125.9 736.4v1.5M126.0 721.1v4.9M126.1 726.3v2.0M126.2 744.5v4.6M126.8 741.0v4.4M127.0 736.3v2.3M127.0 718.7v3.3M127.3 730.0v1.6M127.3 734.8v6.2M127.4 737.4v3.3M127.6 732.1v5.1M128.0 729.9v3.4M128.3 731.7v6.1M128.5 729.8v6.4M128.6 728.8v3.3M129.0 740.8v2.6M129.0 733.9v4.8M129.1 716.8v2.5M129.3 733.9v5.8M130.1 749.2v2.4M130.2 737.9v4.3M130.6 737.5v2.4M130.8 728.1v6.4M131.0 747.1v3.0M131.1 729.3v6.4M131.2 748.7v4.3M131.3 738.8v6.4M131.6 746.5v4.2M131.9 735.8v5.0M132.3 743.8v5.6M132.7 727.8v3.0M132.8 723.0v6.0M133.0 731.7v5.9M133.6 740.6v2.9M133.7 732.2v5.5M133.8 738.4v2.7M134.2 737.5v5.0M134.3 726.9v5.1M134.4 732.0v5.1M134.6 751.3v4.9M134.8 726.6v6.4M134.9 776.2v3.6M135.1 732.2v4.1M135.2 740.0v6.0M135.5 736.3v5.6M135.5 735.0v1.6M135.7 732.0v6.2M135.8 743.4v3.4M136.5 766.3v4.4M136.6 747.8v5.9M136.6 738.0v5.0M136.7 726.6v2.8M136.7 722.3v4.1M136.8 743.4v3.4M136.9 719.2v3.0M137.3 729.5v2.7M137.5 731.3v6.2M137.5 747.5v1.6M137.5 748.2v3.2M137.7 733.3v2.1M138.0 739.8v3.2M138.2 737.7v1.8M138.3 728.5v1.9M163.5 732.9v4.7M164.6 743.3v3.7M164.6 753.1v3.2M164.7 734.4v4.6M164.9 744.2v5.6M164.9 726.8v6.5M165.0 735.9v2.9M165.0 760.4v2.7M165.0 736.5v5.7M165.1 737.7v4.8M165.3 731.2v1.6M165.3 741.0v4.5M165.3 741.7v3.8M165.7 740.6v4.7M166.0 737.6v6.2M166.1 725.2v6.0M166.1 739.0v2.5M166.2 746.3v3.8M166.8 751.8v2.7M166.9 725.2v3.0M167.0 734.4v4.3M167.0 735.1v6.1M167.0 738.9v3.6M167.2 739.3v3.6M167.3 727.3v5.2M167.3 747.9v1.6M167.4 733.9v6.0M167.7 724.0v4.3M168.1 733.5v4.4M168.5 753.6v6.1M168.5 733.9v6.2M168.7 732.6v2.6M169.1 736.4v5.1M169.2 734.1v6.0M169.3 738.0v2.6M169.3 729.7v4.2M169.6 740.8v2.4M169.6 729.3v2.8M170.0 744.0v1.7M170.4 745.5v5.6M170.5 738.3v3.9M170.6 745.8v2.1M171.1 738.9v5.8M171.4 734.7v5.4M171.5 729.2v1.5M171.5 739.4v3.6M171.8 738.9v3.6M172.1 729.9v2.4M172.5 736.6v2.8M172.6 745.9v1.7M173.1 742.5v4.7M173.2 727.7v2.5M173.2 728.4v4.1M173.4 731.9v6.4M173.8 729.9v3.8M173.9 739.6v5.4M174.6 732.1v5.3M174.8 748.0v3.6M175.4 723.6v3.9M175.5 726.4v3.1M175.5 746.1v4.6M175.6 741.5v6.5M176.0 735.7v6.0M176.3 728.7v1.6M176.3 737.7v4.3M176.4 724.8v5.9M176.5 733.1v2.3M176.9 738.2v6.3M177.1 738.1v6.3M177.6 737.5v4.1M177.6 739.3v1.7M177.9 735.0v4.8M178.0 735.4v5.9M178.1 739.5v2.5M178.4 746.0v2.8M178.4 738.8v4.3M178.5 735.6v2.1M178.5 734.0v6.4M178.5 745.9v5.5M178.6 751.7v6.1M178.7 741.2v5.4M179.3 744.5v3.7M179.5 737.7v3.5M179.6 737.9v5.8M179.8 739.7v4.3M180.0 742.7v4.8M180.1 745.9v1.7M180.2 732.1v1.8M180.3 717.9v2.7M180.7 739.0v1.9M180.8 743.1v3.8M180.9 734.5v5.4M181.0 732.4v5.0M181.1 739.5v4.9M181.3 742.6v2.1M181.3 723.7v4.8M181.4 751.1v2.2M182.1 738.7v5.3M182.2 735.1v2.5M182.5 729.5v4.3M183.0 731.2v2.7M183.2 739.7v1.6M183.2 740.6v5.8M183.3 725.5v4.7M183.3 737.3v5.2M183.9 730.5v5.2M184.1 738.0v5.7M184.2 750.3v1.9M184.3 738.7v6.0M185.6 733.5v5.3M185.6 728.5v3.4M185.8 739.4v4.3M185.8 730.7v6.0M187.0 731.0v4.9M187.1 732.1v5.2M187.5 731.3v3.9M187.9 735.8v4.6M188.2 749.0v3.3M188.3 728.1v4.1M188.5 738.5v2.5M188.6 732.8v4.5M188.8 739.9v2.1M189.3 748.0v3.0M189.9 748.3v4.2M190.1 729.9v5.9M190.5 755.5v6.3M190.7 724.4v5.7M190.7 735.5v4.4M191.4 727.8v2.8M191.6 744.8v2.9M191.7 732.5v3.7M191.9 733.2v5.5M192.3 726.5v3.3M192.3 737.5v2.7M192.6 720.4v4.0M193.6 727.0v5.4M193.8 727.6v5.7M193.8 738.7v5.2M193.8 728.1v4.2M194.9 741.4v5.8M194.9 731.8v3.0M195.1 732.4v4.6M195.3 738.1v4.1M195.3 744.7v4.9M195.6 742.0v4.4M195.9 732.2v3.0M195.9 734.5v4.3M196.4 741.0v4.4M196.4 733.1v2.4M196.6 753.4v1.5M196.7 732.9v4.6M196.7 737.3v3.2M197.1 731.7v4.9M197.1 750.0v3.9M197.1 752.4v2.0M197.2 729.2v2.0M197.2 731.1v2.9M197.3 734.4v2.7M197.6 727.8v3.8M198.1 735.7v5.4M198.2 732.9v3.1M198.2 731.6v4.2M198.4 746.7v3.3M198.9 737.7v1.6M198.9 733.1v2.2M198.9 738.4v1.7M199.2 734.9v4.1M199.4 739.4v2.6M200.0 749.0v1.8M200.9 738.2v2.3M201.8 745.5v6.4M202.4 735.0v2.7M202.6 742.3v2.3M203.3 745.2v5.0M203.6 740.9v3.9M203.9 724.3v5.6M204.1 734.8v4.6M204.5 737.2v4.3M204.7 738.9v2.2M205.3 730.2v1.8M205.3 721.0v1.6M205.4 728.2v5.0M205.4 733.9v1.9M207.0 734.5v1.8M207.2 734.5v3.9M208.0 727.8v2.0M208.3 730.9v2.6M208.3 743.3v6.2M208.4 737.3v4.4M208.4 758.1v6.3M209.7 737.9v4.0M209.9 770.6v4.2M210.1 730.6v5.4M210.4 739.8v3.3M210.4 734.0v5.6M210.6 735.8v3.9M211.0 736.4v6.1M211.5 737.4v6.5M211.5 739.8v4.4M211.5 732.8v6.2M211.7 743.4v4.6M211.7 731.6v2.6M212.1 724.1v1.9M212.2 734.6v4.5M212.8 730.8v6.3M212.9 745.2v4.6M213.5 738.5v5.1M213.7 739.8v4.9M213.7 738.3v6.5M214.0 728.2v1.7M214.2 732.2v6.1M214.2 756.9v2.3M214.4 728.3v5.2M214.6 739.9v1.7M214.7 736.0v4.2M215.1 738.1v2.0M215.5 736.5v4.1M216.0 736.3v1.9M216.6 730.2v1.7M216.6 743.3v3.3M216.8 738.3v5.2M217.0 748.6v3.7M217.0 729.0v2.1M217.2 724.1v6.3M217.3 740.2v6.0M217.5 732.6v4.0M217.7 736.4v4.7M217.8 736.9v3.6M217.8 742.4v5.9M217.8 739.4v2.1M217.8 744.4v4.2M218.0 747.1v5.8M218.0 728.2v6.4M218.1 746.2v6.3M218.4 738.3v3.6M218.4 754.1v4.4M218.5 744.2v4.7M218.8 746.0v5.3M218.9 733.5v3.8M219.1 745.7v5.1M219.2 736.9v4.2M219.3 736.5v4.1M219.5 745.5v3.8M219.7 730.4v4.3M220.1 748.5v5.7M220.2 764.6v3.0M220.9 742.1v1.9M221.1 748.0v6.1M221.1 744.2v3.3M221.3 726.4v6.2M221.8 753.1v3.6M222.0 728.9v6.1M222.1 742.3v4.9M222.8 738.8v2.0M223.2 719.9v1.8M223.3 734.3v4.9M223.5 717.7v4.2M223.5 743.8v5.5M223.9 741.2v1.9M224.0 733.4v2.5M224.3 730.9v5.1M224.5 729.1v6.2M224.6 743.1v5.1M224.7 743.7v5.3M224.9 737.8v4.8M225.1 734.4v2.9M225.2 739.9v2.0M225.4 719.1v3.1M225.6 760.3v4.5M225.8 740.1v4.2M226.3 740.5v5.5M226.3 726.1v5.8M226.4 727.5v3.8M226.4 727.8v2.1M226.4 733.4v2.2M226.8 740.7v3.0M226.8 725.5v5.1M226.9 752.3v4.0M227.2 751.1v3.5M227.5 738.0v1.8M227.6 744.4v6.5M227.6 730.9v4.2M227.9 739.1v3.4M227.9 735.2v1.9M228.1 735.2v2.1M228.1 728.3v2.3M228.6 739.2v3.9M229.1 732.7v3.0M229.2 741.3v6.2M229.2 732.3v5.0M229.4 740.1v4.3M229.5 745.5v2.1M229.6 733.4v3.7M230.0 730.2v5.6M230.0 719.7v2.8M230.1 738.3v4.8M230.7 737.0v3.7M230.8 753.6v2.7M230.9 741.9v3.4M231.5 739.1v4.0M231.6 750.0v5.5M232.0 748.9v5.8M232.2 741.3v3.4M232.7 737.1v4.1M233.1 738.1v4.3M233.1 741.6v3.0M233.2 742.0v4.8M233.2 730.4v2.4M233.3 750.7v3.3M233.8 738.8v6.2M233.9 736.5v5.3M234.0 739.8v6.3M234.0 737.8v5.9M234.1 739.4v2.5M234.1 708.3v3.4M234.3 731.9v4.1M234.6 732.0v4.7M234.6 742.0v2.6M235.2 744.5v2.2M235.6 729.1v4.2M235.8 728.3v1.9M236.0 745.6v3.6M236.2 746.3v6.1M236.3 734.2v6.3M237.1 730.6v2.0M237.3 739.0v6.2M237.3 731.7v4.5M237.4 745.0v5.8M237.4 753.8v5.3M237.6 744.9v5.9M237.7 740.6v1.9M238.4 734.8v2.3M238.5 730.4v5.0M238.8 735.5v3.7M238.9 730.5v3.0M239.1 732.5v6.2M239.1 741.5v3.9M239.6 726.8v3.6M240.0 736.5v6.2M240.4 741.1v2.6M240.4 732.8v3.2M241.2 737.9v6.4M241.6 753.2v2.1M241.6 734.2v4.0M241.7 736.2v5.3M242.1 728.7v5.9M242.2 733.1v2.6M242.3 731.8v3.2M243.2 735.7v4.5M243.4 754.5v2.2M243.5 751.4v6.3M243.6 724.5v3.3M244.5 740.9v2.9M244.8 749.9v5.2M244.8 740.3v5.1M245.4 747.6v3.1M245.8 739.4v5.8M246.1 731.5v3.8M246.1 734.7v2.0M246.4 737.0v4.5M246.5 754.0v5.5M246.7 751.8v5.3M247.3 738.4v3.3M247.4 723.8v4.4M250.0 728.5v5.6M250.1 728.8v5.1M250.2 724.1v1.8M250.4 738.6v2.4M250.4 739.5v4.7M250.9 733.4v2.0M250.9 734.6v5.1M251.1 741.6v3.4M251.1 715.5v3.6M251.2 742.4v2.5M251.4 737.0v2.7M251.4 738.8v4.3M252.2 732.9v1.9M252.3 740.7v2.7M252.4 738.7v5.0M252.5 736.3v6.1M252.7 737.0v5.1M253.0 729.7v4.6M253.8 742.4v2.1M254.1 747.7v1.7M254.3 726.2v2.3M254.3 744.5v3.3M254.7 731.4v2.6M254.9 738.5v4.0M255.1 737.6v2.0M255.2 748.3v1.7M255.4 735.2v1.6M255.6 735.1v2.3M255.7 742.0v6.3M255.8 731.9v2.9M255.8 726.9v2.1M256.1 733.7v4.2M256.7 743.1v2.6M256.7 740.5v1.5M256.9 730.9v6.3M257.0 743.4v3.2M257.1 742.5v4.4M257.4 739.1v3.0M257.7 745.6v1.9M257.7 736.2v2.9M258.8 732.2v1.9M259.1 736.1v5.8M259.4 718.4v6.5M259.4 734.7v3.8M259.5 728.0v1.9M259.7 744.8v4.3M259.7 732.1v4.2M259.8 729.2v3.3M259.9 759.3v3.5M260.1 733.7v5.4M260.2 731.1v5.5M260.6 736.8v1.7M260.7 744.5v6.3M260.8 732.0v4.5M260.8 732.6v4.2M261.2 733.8v2.9M261.4 730.7v2.8M261.4 747.6v6.4M261.4 753.1v6.4M261.7 733.1v2.4M261.8 728.6v5.7M262.3 739.8v3.6M262.3 729.5v4.8M262.4 746.7v5.6M262.5 717.7v6.4M263.1 728.5v4.8M263.5 708.9v5.9M263.6 732.4v2.0M263.9 736.7v1.9M264.4 726.2v3.2M264.4 728.6v2.8M265.3 737.9v1.8M265.5 738.5v2.9M265.5 739.8v4.2M265.5 741.6v4.5M266.0 746.1v5.4M266.2 736.7v6.1M266.4 733.1v5.8M266.6 737.5v2.1M266.9 727.3v3.9M267.0 732.6v6.3M267.2 743.9v6.1M267.4 735.0v5.9M267.5 738.4v3.3M267.7 737.3v3.0M267.9 734.1v1.8M267.9 745.9v5.5M267.9 726.3v2.3M268.0 723.1v3.8M268.1 721.1v4.5M268.1 728.3v5.4M268.5 731.1v2.4M268.8 731.6v1.9M269.9 728.2v4.1M270.1 731.3v2.8M270.1 731.6v2.4M270.1 753.1v4.9M270.2 738.2v5.9M270.4 734.7v5.2M270.6 731.4v4.8M270.9 733.2v3.6M271.0 739.0v1.8M271.2 739.5v3.3M271.3 726.5v5.4M271.7 725.5v6.1M271.9 714.8v5.8M272.7 740.0v5.6M272.7 731.4v6.5M272.8 751.9v5.6M272.9 734.3v1.6M273.2 733.2v3.0M273.3 719.1v6.4M273.6 740.6v4.9M273.7 732.3v5.4M274.5 738.6v5.0M274.6 745.6v3.5M275.4 721.4v6.0M275.8 712.6v2.4M275.9 753.6v5.3M276.2 729.3v6.4M276.3 724.7v5.0M276.4 745.2v4.6M276.5 733.7v4.2M276.6 754.7v3.8M276.9 731.8v4.9M277.2 736.8v4.7M277.3 737.8v3.7M277.6 736.6v5.0M277.8 746.7v2.2M278.0 721.3v2.4M278.4 724.1v2.7M279.1 734.1v6.4M279.2 728.1v5.2M279.3 727.0v3.9M279.4 746.3v4.9M279.4 721.8v6.3M279.5 730.4v2.1M279.9 736.0v3.0M280.0 734.5v1.6M280.1 743.6v1.6M280.4 744.1v1.6M280.8 734.0v6.5M280.9 735.7v3.1M281.0 739.4v3.6M281.0 736.0v4.2M281.1 734.2v1.7M281.1 730.0v3.7M281.8 735.2v2.5M282.1 731.8v2.3M282.4 729.4v2.8M282.7 736.9v5.4M283.1 732.8v5.8M283.5 739.2v5.9M283.9 736.2v2.4M284.2 744.8v5.4M284.4 739.7v2.0M284.4 754.6v2.7M284.5 749.6v1.7M284.6 739.6v6.3M284.6 742.9v2.0M284.8 728.3v4.0M284.9 724.7v5.7M285.1 750.1v3.2M285.1 736.8v3.5M285.1 740.5v3.8M285.4 734.1v1.9M285.5 733.4v2.1M285.7 730.4v3.8M286.6 720.4v4.8M286.7 718.0v4.1M286.8 726.8v3.9M286.8 715.9v4.2M287.1 747.4v2.8M287.1 729.8v3.3M287.5 727.6v4.2M288.0 722.7v3.4M288.1 720.8v2.8M288.5 736.0v5.6M288.6 728.0v5.3M288.8 727.1v6.1M289.3 733.0v1.7M290.9 747.8v5.3M291.0 731.6v5.8M291.6 753.1v2.2M292.3 738.1v5.7M292.5 738.1v4.0M292.8 727.8v5.1M292.8 740.2v4.0M293.3 739.8v1.8M293.6 732.8v3.7M293.7 731.3v4.7M293.9 750.1v5.1M294.1 741.2v5.4M294.2 736.1v5.6M294.4 723.9v5.7M294.5 749.8v3.1M294.8 744.5v6.2M294.8 740.2v4.0M294.9 723.9v2.2M295.2 749.1v1.7M296.2 732.6v6.4M296.3 736.4v2.3M296.4 719.7v6.0M296.9 734.8v1.9M297.1 736.7v3.1M297.3 733.7v3.9M297.5 740.4v4.6M297.6 742.8v2.3M297.6 730.9v2.1M297.8 738.6v2.7M297.9 742.2v1.9M298.3 731.9v4.6M298.3 725.4v2.5M298.5 726.0v2.7M298.9 744.7v5.3M299.0 747.3v5.6M299.0 739.0v4.2M299.1 731.7v5.0M299.1 727.9v4.2M299.2 743.4v2.2M299.2 737.0v4.0M299.3 725.0v5.5M299.5 740.4v1.5M299.5 724.6v3.6M299.6 722.9v5.6M299.6 741.2v5.8M299.7 740.2v5.2M299.7 746.8v5.9M299.9 733.3v3.4M300.2 736.9v2.1M300.5 732.1v6.3M300.6 738.3v2.2M300.6 736.9v4.2M300.7 729.4v5.7M300.9 743.5v6.1M301.3 745.7v2.0M301.5 743.2v2.5M301.6 736.3v2.4M301.7 744.1v2.8M301.7 740.7v3.4M302.0 729.2v1.7M302.1 737.9v3.5M302.3 748.7v3.5M302.4 731.1v5.5M302.6 733.1v5.0M302.6 737.1v3.8M302.9 727.4v2.0M303.5 734.8v5.4M303.6 738.0v5.4M303.6 732.3v4.7M304.2 733.9v3.3M304.5 743.4v2.5M304.7 740.4v4.8M304.9 743.7v4.1M304.9 705.3v4.0M305.0 734.1v4.3M305.0 747.3v4.6M305.1 748.2v5.6M305.4 728.9v4.6M305.6 733.2v6.3M305.7 750.4v5.9M306.1 736.0v1.6M306.5 736.4v2.3M306.9 728.2v2.5M306.9 733.8v3.0M307.2 750.3v5.7M307.4 736.8v2.6M307.7 745.9v2.7M308.1 743.5v3.3M308.3 739.5v2.5M308.5 742.5v2.9M308.9 748.4v5.1M308.9 724.9v3.5M309.1 747.9v5.8M309.5 735.0v4.1M309.5 742.5v5.5M310.0 749.6v5.4M310.3 744.4v1.7M310.8 743.8v3.1M311.4 737.7v5.9M311.4 745.8v3.9M311.8 733.5v6.2M312.1 734.0v5.6M312.2 755.7v1.8M312.6 733.0v6.3M312.6 732.1v6.4M312.6 742.4v5.5M312.8 723.3v6.3M312.9 742.7v5.5M313.2 752.8v4.1M313.3 753.6v2.7M313.4 741.9v2.4M313.5 746.6v2.6M313.5 743.0v2.5M314.2 728.3v6.4M314.2 745.0v5.7M314.3 744.3v5.6M314.7 749.7v3.9M314.9 739.8v4.9M315.4 745.5v4.2M315.9 752.0v2.4M316.0 745.3v2.5M316.1 727.2v4.9M316.3 740.3v3.7M316.5 744.3v1.8M316.5 738.0v4.5M316.6 729.6v5.6M316.6 730.7v5.4M317.7 744.5v3.8M318.5 734.4v3.5M318.8 739.3v5.9M319.2 714.4v2.2M319.4 736.5v2.3M319.7 739.2v3.4M319.8 746.6v5.0M319.8 734.4v5.2M320.3 745.7v2.2M320.3 758.0v4.5M320.5 740.8v6.4M320.9 740.5v5.9M320.9 756.3v2.5M321.1 734.6v4.4M321.1 725.8v4.7M321.2 734.5v4.6M321.4 760.8v6.4M321.5 739.9v4.3M321.7 737.6v1.5M322.1 742.2v2.3M322.6 731.9v2.6M322.6 749.2v2.1M322.7 738.6v3.5M323.4 746.1v5.9M323.7 745.3v4.3M323.8 741.7v3.5M323.9 732.2v4.8M324.0 723.2v6.1M324.1 743.0v3.2M324.3 739.1v2.3M324.5 728.6v5.9M324.6 747.5v5.8M324.8 739.4v6.4M324.8 731.0v1.8M324.8 736.3v6.1M325.4 730.2v5.4M325.5 722.2v3.2M325.6 745.7v2.1M325.6 747.1v3.4M325.8 723.0v1.9M325.9 747.4v1.6M327.2 756.1v3.5M327.4 764.9v5.6M327.4 733.0v4.6M327.6 727.6v5.3M327.7 748.7v1.6M328.0 730.5v1.9M328.1 746.4v3.9M328.1 745.0v3.6M328.2 724.1v4.3M328.2 730.0v5.3M328.4 746.3v3.8M328.4 745.9v2.5M328.6 742.3v3.6M329.5 740.8v3.7M330.2 738.2v5.6M330.3 748.3v3.5M330.5 747.0v6.1M331.9 755.1v1.8M332.0 752.0v3.1M332.1 729.3v4.2M332.4 747.4v1.5M332.5 734.9v6.0M332.6 746.2v3.5M332.7 741.8v4.8M333.1 753.4v1.6M333.3 745.5v2.8M333.8 747.5v5.7M334.0 731.1v5.2M334.1 746.6v2.1M334.4 736.8v5.8M334.6 729.7v2.2M334.7 743.2v4.1M334.9 737.9v5.2M335.3 741.6v3.1M335.4 742.6v3.6M335.6 735.8v3.7M335.7 737.6v6.2M335.7 742.1v3.2M335.8 738.4v6.0M335.9 734.1v1.7M335.9 732.8v4.9M336.1 728.1v2.0M336.2 745.0v3.5M336.6 727.1v2.4M336.7 739.5v4.0M337.1 743.5v4.2M337.1 745.1v4.0M337.1 729.4v5.5M337.2 750.3v1.7M337.3 732.0v2.2M337.3 718.5v5.1M338.2 748.3v4.6M338.7 749.8v4.3M339.0 722.8v2.6M339.0 739.4v5.7M339.0 742.9v4.1M339.2 743.6v3.0M339.4 734.6v4.3M339.7 735.2v3.6M339.9 735.9v5.8M340.0 735.1v5.6M340.1 733.5v3.2M340.1 748.2v5.5M340.2 735.7v3.0M340.2 731.2v5.7M340.4 751.3v5.7M340.9 732.9v2.8M341.2 745.1v3.2M341.7 739.4v2.5M341.9 738.5v6.1M342.0 737.8v4.0M342.2 743.4v6.1M342.4 741.0v4.2M342.4 736.5v4.7M342.9 732.0v5.7M343.0 741.9v2.0M343.1 742.2v3.2M343.1 734.8v4.5M343.6 725.1v4.0M343.7 739.5v1.9M343.8 722.7v2.2M343.9 736.9v4.1M344.0 745.2v4.6M344.3 730.2v3.5M344.4 737.3v3.9M344.8 735.3v3.4M344.8 731.9v5.9M345.1 730.7v1.6M345.9 738.4v4.1M346.1 744.4v5.7M346.4 745.4v2.2M346.9 743.8v2.5M347.5 741.6v3.3M347.8 736.7v5.7M347.9 746.4v3.5M347.9 739.0v6.3M348.0 762.8v4.1M348.3 761.5v2.8M348.7 746.9v1.7M348.7 732.3v1.9M348.7 743.0v6.1M349.0 722.9v6.0M349.0 740.7v2.3M349.2 740.8v3.2M349.3 740.4v5.6M349.4 746.2v2.8M349.5 741.3v5.6M349.7 736.6v5.8M350.4 733.7v2.4M350.4 737.3v1.5M350.5 755.7v4.7M350.8 739.1v3.7M351.0 740.7v2.3M351.1 735.7v3.1M351.2 734.4v1.9M351.4 733.6v4.5M351.4 747.6v3.5M351.5 741.2v6.4M351.8 728.1v5.3M351.8 743.9v4.0M352.0 742.6v2.3M352.0 736.8v3.5M352.1 733.9v2.4M352.3 733.4v5.7M352.6 742.3v5.5M352.9 732.8v5.1M353.1 740.4v1.6M353.4 732.0v2.3M353.7 734.3v2.3M354.1 734.3v1.9M354.1 741.2v2.9M354.6 743.3v3.0M354.8 744.8v5.7M354.8 740.6v1.6M355.3 737.6v3.2M355.6 747.6v3.8M355.7 733.0v1.8M356.3 721.6v4.2M356.5 733.5v5.6M356.8 742.4v1.6M357.1 738.2v5.3M357.3 728.8v2.9M357.3 737.4v4.4M357.9 742.8v3.3M358.0 729.5v6.5M358.9 701.4v4.4M359.0 720.5v3.8M359.1 733.8v6.1M359.6 739.8v4.5M360.0 735.3v3.4M360.1 736.1v1.5M360.2 728.7v4.2M360.4 730.0v3.8M360.4 744.5v1.8M361.3 737.8v3.9M361.7 731.1v4.1M362.2 747.8v3.7M362.4 732.9v6.1M362.4 742.9v4.1M362.6 732.8v5.0M362.8 734.7v3.8M363.1 739.3v3.6M363.1 725.8v3.3M363.3 744.3v3.0M363.9 740.5v5.1M364.0 733.7v3.4M364.2 712.8v1.7M364.7 742.8v4.2M365.0 725.8v3.8M365.0 735.5v5.7M365.0 734.4v5.1M365.1 739.9v1.6M365.2 739.7v2.1M365.3 745.7v2.6M365.9 726.9v3.0M365.9 742.7v1.9M366.2 746.9v3.7M367.0 759.7v3.6M367.3 752.5v3.0M367.5 744.2v5.1M368.0 744.7v2.0M368.1 736.3v5.3M368.3 738.6v1.6M368.5 728.8v6.4M368.6 724.3v1.5M368.7 737.6v6.0M369.6 731.2v2.8M369.7 735.3v4.5M369.7 737.9v2.9M369.7 731.4v4.9M372.0 743.8v4.1M372.1 735.3v5.3M372.3 743.0v3.4M372.5 750.8v2.0M372.6 741.4v1.5M372.7 727.8v4.4M372.7 737.0v6.1M373.0 726.7v3.0M373.3 734.7v4.1M373.5 746.1v1.7M374.1 730.5v6.4M374.3 742.0v2.8M375.2 733.1v5.7M375.2 752.9v3.1M375.4 734.4v2.3M375.6 734.7v2.2M376.1 734.2v1.7M376.3 731.3v5.3M376.3 731.1v3.1M377.1 733.5v6.0M377.3 733.4v5.5M377.3 724.2v5.9M377.3 740.9v3.0M377.3 754.7v2.5M377.4 732.8v6.1M377.5 733.4v2.5M377.6 747.6v1.6M378.0 734.2v2.9M378.0 732.9v4.5M378.0 733.7v2.7M379.1 741.0v2.9M379.1 734.4v4.2M379.1 731.4v6.1M379.1 738.9v3.4M379.6 741.4v3.9M379.7 727.5v5.9M379.8 729.8v2.0M380.0 727.1v4.1M380.0 728.4v3.9M380.4 734.8v3.4M380.5 738.4v4.8M380.7 733.8v6.0M381.0 742.8v5.3M381.1 748.0v2.7M381.1 732.6v5.6M381.2 739.5v3.7M381.4 743.2v4.2M381.9 739.3v4.6M382.0 724.6v2.8M382.1 744.6v1.8M382.5 745.4v3.3M382.5 733.1v4.2M383.0 750.0v3.9M383.2 736.7v1.7M383.3 732.4v3.2M383.5 745.9v4.1M383.7 750.7v5.9M383.7 736.3v1.7M384.0 732.7v5.3M384.1 733.5v4.2M384.1 723.5v6.0M384.2 731.3v2.7M384.4 730.0v4.4M384.5 740.8v3.9M384.5 723.3v4.1M384.8 741.6v4.1M385.1 731.4v6.1M385.3 735.0v4.2M385.6 727.1v3.0M385.7 742.0v4.9M386.1 744.2v1.6M386.5 734.0v5.0M386.8 731.2v2.1M386.9 741.5v3.1M387.0 736.6v4.5M387.2 734.3v5.5M387.3 752.8v6.4M387.5 738.8v6.0M387.5 733.4v1.6M387.5 741.7v1.8M387.9 735.6v5.7M388.0 743.3v1.7M388.1 738.4v3.5M388.3 740.3v2.2M389.0 731.6v5.5M389.2 740.3v3.3M389.5 752.4v6.2M389.5 737.6v6.3M390.1 744.5v4.8M390.2 725.1v6.4M390.3 730.4v3.3M390.7 726.7v2.3M391.4 735.2v2.0M391.6 733.8v6.4M391.6 740.3v3.6M391.8 738.6v2.9M391.8 745.7v3.6M392.1 729.4v5.8M392.5 738.4v5.9M392.7 732.4v3.2M392.9 737.9v4.9M393.0 737.6v5.6M393.5 731.9v5.3M393.5 735.3v6.2M393.9 740.8v1.7M393.9 739.0v1.7M394.1 728.5v3.9M394.2 734.3v2.4M394.5 739.8v1.5M394.7 742.4v4.6M395.4 749.3v3.3M395.4 739.0v4.5M395.5 743.0v4.9M395.8 728.0v5.7M396.0 745.6v3.6M396.8 741.8v5.3M397.0 731.6v6.3M397.3 743.8v2.4M397.3 741.9v4.8M397.4 747.4v5.7M397.6 736.4v4.5M397.8 730.8v6.0M397.8 728.1v1.9M397.8 768.6v3.3M398.1 743.9v2.7M398.4 738.2v5.5M398.6 741.2v1.8M398.9 727.7v5.3M399.3 728.7v3.1M399.3 728.2v4.5M399.5 735.5v4.3M399.6 732.8v1.6M399.7 736.5v6.0M399.8 740.8v2.1M400.0 736.8v1.8M400.1 723.0v3.3M400.5 751.4v3.9M400.5 732.2v6.1M400.7 739.4v1.7M400.9 749.6v5.2M400.9 741.1v2.9M400.9 735.7v5.8M401.2 738.0v1.7M401.6 737.7v4.4M402.1 728.1v1.5M402.2 743.1v4.2M402.6 729.7v3.9M403.1 741.7v4.8M403.2 745.7v4.5M403.4 729.4v1.8M403.4 736.8v3.5M403.4 745.8v3.0M403.6 745.6v1.6M404.4 721.0v5.4M404.4 735.8v3.9M404.6 727.3v5.6M404.7 753.0v5.7M405.1 749.2v2.5M405.1 735.7v3.5M406.5 723.2v6.4M406.9 742.5v5.0M407.0 742.9v2.5M407.1 737.5v3.0M407.3 733.3v6.1M407.5 730.7v3.0M407.7 735.5v4.0M407.8 724.8v4.5M408.1 725.1v4.7M409.0 740.6v2.7M409.4 738.0v3.2M409.5 734.8v3.7M410.0 733.1v3.2M410.3 744.6v5.3M410.4 748.8v3.5M410.7 727.2v2.7M410.9 729.2v4.9M411.2 741.0v2.7M411.4 734.4v2.1M411.6 730.7v1.6M411.7 734.0v2.5M412.2 729.7v4.6M412.2 731.9v2.7M412.3 733.5v1.5M412.3 725.4v4.7M412.4 729.9v5.5M412.4 734.6v3.7M412.9 726.1v2.7M413.3 724.1v6.0M413.4 741.1v4.8M413.4 738.8v3.4M413.9 734.2v4.5M414.1 756.7v5.1M414.2 737.4v1.8M414.3 731.6v4.9M414.6 739.9v2.0M414.6 728.3v2.1M415.0 727.3v4.3M415.2 737.4v5.5M415.9 729.8v5.6M416.2 723.1v6.3M416.3 739.2v3.1M416.3 737.9v4.6M416.3 726.6v6.1M417.0 730.6v4.5M417.6 744.7v3.1M417.7 738.5v2.3M417.8 736.0v6.3M418.1 751.7v4.6M418.4 743.9v2.0M418.6 729.7v3.2M419.4 729.0v3.7M419.5 731.4v4.6M419.9 750.1v2.7M419.9 740.8v1.6M420.2 733.4v1.5M420.2 732.6v4.0M420.3 760.3v2.8M420.9 743.9v4.2M421.1 735.5v3.0M421.2 746.5v5.9M421.5 738.9v5.3M421.7 740.2v4.9M421.8 736.5v4.3M422.0 741.2v1.9M422.0 726.0v5.4M422.1 731.7v6.0M422.3 744.5v5.7M422.5 735.0v6.1M422.8 741.6v1.5M423.4 736.3v4.1M423.6 740.5v3.7M423.8 724.2v3.9M423.8 756.8v2.1M425.0 733.5v4.6M425.1 738.2v5.0M425.4 732.4v4.2M425.5 737.4v2.5M425.7 736.2v2.3M426.0 736.8v3.3M426.0 742.0v3.1M426.0 731.4v6.2M426.1 738.0v1.5M426.1 736.7v5.1M426.1 741.9v3.5M426.4 741.8v2.2M426.4 745.0v5.9M426.5 729.3v3.6M426.5 730.0v2.3M426.6 740.2v4.1M426.7 729.0v4.5M426.9 723.2v4.0M427.0 726.7v6.3M427.0 742.7v6.3M427.4 733.8v2.6M427.5 733.7v5.2M427.7 754.3v2.9M427.8 730.0v4.5M427.8 747.8v5.7M428.1 735.3v4.4M428.2 735.8v5.0M428.6 734.5v2.8M428.8 740.2v5.7M428.9 736.1v4.4M428.9 728.3v6.4M429.1 729.2v2.2M429.2 732.7v5.5M429.2 749.7v4.4M429.4 727.4v2.2M429.9 748.6v1.6M429.9 732.3v5.6M430.2 743.9v3.4M430.3 728.6v5.8M430.5 725.2v3.9M430.5 730.8v5.8M430.6 734.3v5.3M430.6 722.9v1.5M431.7 741.0v1.6M431.8 747.2v3.9M431.9 723.7v1.7M432.1 732.0v6.3M432.2 734.9v4.5M432.5 739.1v5.7M432.5 738.7v3.5M433.5 736.0v2.3M433.6 735.7v6.2M433.7 745.8v2.3M433.8 742.3v5.7M434.0 725.3v4.6M434.3 733.5v4.1M434.8 740.5v5.2M435.3 737.4v4.5M435.4 736.4v2.8M435.5 732.2v2.9M435.6 740.9v2.0M435.8 724.8v6.5M435.9 731.5v4.2M436.0 728.5v6.2M436.0 732.0v2.6M436.0 733.9v3.2M436.5 707.5v6.2M437.0 737.3v1.8M437.9 741.7v6.0M438.0 728.3v3.4M438.2 749.1v5.3M438.2 740.0v2.3M438.4 734.6v5.2M438.5 729.4v5.5M438.8 735.6v5.9M438.9 738.4v5.0M439.1 737.4v4.4M439.3 743.0v3.4M439.3 733.7v4.0M439.4 733.2v1.8M439.4 732.9v6.3M440.9 737.6v4.1M441.2 739.5v4.1M441.5 735.2v5.2M441.6 734.2v5.6M441.6 747.2v2.0M442.0 734.5v1.8M442.0 734.7v2.7M442.1 741.2v4.6M442.4 698.5v5.4M443.2 739.0v6.0M443.5 738.2v6.1M443.6 735.7v5.5M443.9 743.5v2.3M444.2 724.4v4.1M444.2 741.5v4.9M444.4 730.5v2.5M445.3 751.6v1.6M445.4 735.1v2.2M445.7 727.7v6.4M445.9 739.4v5.2M446.0 735.7v5.6M446.3 739.7v4.0M446.5 740.3v2.8M446.7 751.3v2.3M446.8 737.6v6.0M446.8 731.0v1.7M447.4 723.2v3.5M447.5 732.0v5.5M447.6 739.9v2.7M448.1 705.1v6.3M448.4 737.4v2.4M448.8 735.5v3.5M448.9 744.7v5.1M449.0 735.5v1.7M449.0 735.8v2.9M449.3 732.5v3.3M449.7 731.1v1.8M449.9 726.6v2.8M450.2 740.4v3.9M450.3 725.5v5.1M450.3 730.3v2.1M450.4 741.8v3.5M450.7 734.8v3.5M450.8 732.9v4.0M450.9 732.7v2.9M451.1 732.9v3.2M451.1 736.1v1.6M451.5 747.0v1.7M451.9 744.4v3.8M451.9 736.7v6.2M451.9 735.2v3.3M452.3 726.4v3.9M452.4 735.2v2.5M452.9 734.0v4.4M452.9 743.2v5.8M453.0 743.7v1.9M453.2 723.4v4.6M454.4 738.9v4.1M454.6 739.4v3.4M454.6 741.0v1.7M454.7 730.0v6.4M454.9 734.9v4.1M455.4 729.3v3.6M456.1 739.2v4.7M456.1 718.9v4.5M456.8 744.6v2.7M456.9 737.0v3.6M456.9 735.0v3.8M457.2 747.6v2.8M457.2 766.5v4.5M457.4 730.8v5.5M457.7 731.5v3.3M457.9 740.2v2.8M458.2 739.8v2.1M458.2 743.7v5.6M458.5 738.3v4.7M458.6 747.2v4.5M458.8 728.5v3.2M458.9 742.1v5.6M459.1 737.5v3.1M459.1 732.6v4.9M459.2 740.9v4.2M459.4 741.4v3.5M459.5 743.6v2.0M459.5 738.6v6.2M459.7 742.6v5.9M459.9 729.6v2.4M460.0 734.7v4.3M460.0 731.5v4.5M460.1 747.3v3.8M460.3 746.3v2.6M461.0 752.3v4.5M461.0 742.2v2.0M461.0 742.0v3.6M461.0 733.8v4.6M461.5 745.9v2.0M461.5 750.4v5.0M461.6 733.6v5.9M461.6 736.5v3.0M461.9 725.3v5.7M461.9 737.5v2.4M462.0 730.1v4.7M462.2 727.0v6.2M462.2 728.9v4.5M462.3 731.6v2.8M462.3 725.7v4.4M463.5 743.0v1.7M463.7 741.1v5.8M463.9 738.3v5.0M464.1 721.8v3.7M464.3 736.4v5.4M464.5 745.9v4.4M464.7 729.3v2.5M465.1 731.4v3.4M465.4 735.0v5.8M465.7 741.7v3.6M465.8 729.9v5.2M466.0 737.0v3.3M466.0 724.9v4.8M466.2 730.9v3.3M466.3 757.9v4.8M466.5 735.9v2.4M466.8 705.4v4.7M466.9 738.5v5.6M467.2 744.5v3.3M467.6 735.7v5.0M467.6 738.1v5.1M467.8 744.0v4.1M468.0 731.7v4.7M468.0 734.7v5.9M468.3 735.3v4.0M468.4 742.5v4.7M469.4 744.5v3.3M469.4 734.8v6.1M469.8 739.6v4.6M469.9 744.1v4.0M469.9 742.5v3.4M469.9 745.9v6.1M469.9 732.0v6.2M470.3 731.6v3.8M470.6 738.6v2.0M471.0 730.8v2.1M471.0 724.7v5.8M471.1 725.9v2.6M471.1 767.2v3.9M471.4 731.5v5.6M471.4 750.6v2.3M472.0 752.3v2.5M472.1 741.3v5.3M472.3 736.7v4.1M472.4 727.6v6.3M472.4 744.7v4.1M472.9 747.1v5.4M473.1 737.3v1.6M473.3 744.3v2.9M473.7 743.5v6.3M473.7 728.5v5.4M474.0 738.4v2.6M474.3 731.1v3.1M474.5 739.7v6.4M474.5 748.4v2.6M474.7 746.1v5.7M476.1 742.0v2.2M476.2 731.6v6.0M477.0 734.8v5.2M477.5 743.7v1.9M477.7 735.4v4.8M477.8 736.7v4.1M478.1 745.6v4.6M478.6 724.4v2.6M478.6 733.3v5.3M478.8 724.3v6.0M478.8 744.3v2.8M478.9 731.6v5.0M479.0 732.4v2.2M479.1 738.6v5.4M479.7 732.9v2.4M479.8 743.6v4.8M480.0 738.5v4.6M480.6 730.4v6.2M480.7 738.1v2.0M480.8 736.8v6.0M481.0 732.7v6.4M481.2 744.3v2.3M481.7 738.8v2.8M483.2 750.5v6.1M483.2 735.3v3.2M483.3 733.6v2.8M483.3 726.2v4.4M483.6 738.6v5.9M484.0 728.8v5.3M484.0 737.4v4.3M484.1 732.5v5.9M484.3 731.1v3.6M484.4 740.9v6.3M484.8 738.6v3.2M485.2 731.3v5.3M485.3 739.8v5.7M485.3 727.1v4.1M485.4 735.9v3.6M485.4 733.1v4.9M485.6 726.2v4.7M485.7 739.2v1.5M485.7 731.2v2.7M485.8 738.2v3.5M486.7 735.9v4.5M486.7 739.9v6.0M486.7 744.1v3.1M486.8 738.9v2.0M487.0 719.1v1.7M487.1 734.1v6.1M487.8 727.8v5.2M487.9 734.8v5.4M488.0 724.4v1.7M488.0 775.2v6.5M488.2 737.7v2.3M488.2 736.4v5.5M488.7 739.1v3.0M488.7 743.1v5.2M489.0 742.6v2.9M489.1 727.3v2.5M489.6 752.1v1.5M489.9 727.7v5.7M490.4 733.6v1.7M490.6 733.1v4.1M491.4 738.1v5.8M491.6 742.0v5.6M491.8 743.4v2.5M492.0 743.8v5.9M492.2 742.8v4.6M492.5 735.5v4.9M492.7 734.7v1.7M493.0 740.8v4.7M493.0 742.2v3.6M493.3 738.6v6.5M493.8 750.9v2.8M493.8 735.3v3.6M493.8 727.2v2.9M494.0 739.4v2.8M494.0 734.4v3.0M494.0 732.9v5.8M494.0 734.4v4.6M494.6 750.8v2.0M494.6 734.5v5.7M494.7 733.5v1.9M494.8 740.7v2.4M494.9 742.7v3.4M495.6 738.6v3.7M495.7 741.1v1.8M495.8 748.3v5.0M495.9 747.2v2.8M496.0 735.7v4.4M496.2 726.9v2.5M509.6 742.8v3.9M509.6 735.7v6.1M510.0 732.7v6.5M510.1 730.0v4.6M510.7 735.6v5.0M510.7 745.9v4.3M510.8 737.7v3.5M510.9 727.3v4.5M511.2 740.8v6.4M511.6 744.2v5.7M511.9 744.0v3.5M512.4 724.4v3.6M512.6 745.9v5.1M513.2 733.8v2.2M513.5 747.4v5.1M513.6 735.8v2.8M514.1 733.1v5.0M514.2 740.7v2.3M514.5 733.0v4.8M514.5 751.6v4.7M514.7 752.5v5.5M514.9 747.7v2.8M515.4 753.4v5.8M515.4 750.2v5.6M516.0 738.6v6.0M516.0 746.6v3.8M516.2 756.0v1.8M517.0 750.4v3.7M517.1 734.1v5.3M517.3 761.0v1.9M517.6 744.2v3.6M518.0 746.6v6.0M518.0 733.3v6.0M518.2 741.7v5.5M518.4 729.7v4.2M518.6 734.4v6.1M518.9 736.5v4.2M519.2 741.6v5.8M519.3 733.8v5.5M519.3 733.9v6.4M519.4 740.9v2.8M520.2 744.4v3.0M520.3 729.9v2.9M520.5 751.6v3.7M520.8 737.1v3.6M520.8 734.7v1.8M520.9 729.5v5.5M521.0 724.6v3.0M521.6 750.4v3.8M521.7 737.7v3.3M521.7 740.8v1.7M522.2 732.1v5.8M522.3 731.5v2.3M522.7 737.9v5.3M522.8 732.7v2.3M523.1 740.3v3.8M523.2 741.9v4.7M523.2 719.2v1.5M523.5 745.7v2.2M523.8 736.4v2.5M524.2 714.0v5.3M524.2 729.0v3.8M524.2 717.7v5.4M524.2 729.6v5.5M524.4 748.1v2.2M524.7 737.5v5.1M525.1 721.6v1.9M525.7 731.3v4.0M525.8 736.8v2.2M526.0 748.1v1.9M526.1 740.4v3.3M526.1 726.0v4.0M526.1 739.3v4.8M526.2 724.2v2.2M526.2 742.6v4.9M526.5 749.0v1.8M526.6 732.2v3.8M526.6 747.6v2.2M526.8 733.3v3.1M526.8 727.5v6.4M527.4 747.7v4.2M527.6 729.6v2.2M527.7 741.4v5.5M527.9 737.1v4.7M528.0 727.7v2.4M528.2 733.5v2.6M528.7 737.5v3.4M528.9 734.3v1.8M529.2 735.2v6.2M529.4 742.6v5.9M529.4 746.4v2.0M529.6 736.5v1.6M529.8 736.9v1.7M529.9 746.1v5.7M529.9 722.6v2.4M529.9 739.6v4.9M542.3 726.0v1.8M543.1 738.0v2.7M543.6 744.5v1.6M543.7 749.4v1.6M543.7 741.7v6.2M544.0 748.5v6.2M544.1 739.7v3.6M544.3 737.8v2.9M544.5 744.8v1.9M544.6 743.7v4.3M544.8 733.5v2.3M544.9 738.3v1.9M545.1 724.3v6.2M545.6 734.7v2.4M545.7 728.0v3.1M545.8 745.5v2.1M546.1 726.2v5.0M546.6 739.7v4.0M546.8 733.2v5.3M547.0 737.7v3.2M547.0 744.7v5.5M547.1 738.2v2.4M547.1 748.1v2.4M547.3 729.6v5.2M547.4 727.1v1.5M547.5 729.5v6.4M547.7 736.4v2.9M548.0 731.2v3.2M548.0 731.5v3.2M548.3 738.0v2.2M548.4 734.9v3.7M548.8 723.6v4.3M549.0 743.3v5.8M549.3 746.2v2.8M549.3 745.9v2.0M549.4 746.0v2.6M549.6 747.4v5.7M549.8 733.2v2.8M550.4 721.7v3.2M550.7 721.6v6.1M550.8 707.1v2.6M550.8 723.0v3.3M551.2 733.6v2.7M552.7 743.3v3.1M552.7 738.6v2.9M552.7 725.0v1.7M553.1 734.8v4.1M553.2 730.5v6.4M553.5 730.2v4.8M554.0 738.4v1.5M554.0 725.6v6.1M554.2 738.8v4.6M554.5 738.2v1.6M554.7 739.0v5.8M554.7 730.9v5.5M555.0 724.2v6.3M556.1 726.4v3.8M556.5 736.9v4.4M556.7 723.3v2.9M556.9 743.1v3.9M557.2 743.5v2.0M557.6 725.6v2.9M557.8 737.4v3.7M558.7 740.0v3.8M559.5 737.4v4.4M559.5 742.9v1.9M559.7 734.2v2.5M560.1 736.3v2.0M560.1 744.6v5.1M560.2 721.0v3.7M560.6 737.3v5.8M561.2 729.9v3.3M561.3 729.5v2.2M561.6 727.7v2.6M561.6 728.0v2.0M561.9 732.6v5.4M562.2 726.9v5.5M562.2 726.4v6.1M562.9 741.3v5.3M563.2 729.0v2.4M563.3 723.7v6.3M563.4 710.5v6.2M563.5 734.9v5.6M564.2 733.3v5.5M564.4 727.7v5.1M564.7 729.2v2.9M564.8 747.5v4.8M564.8 727.0v4.0M565.0 723.4v5.0M565.0 745.7v6.1M565.5 728.5v3.2M565.5 725.5v3.6M565.6 724.5v5.7M566.0 740.3v5.8M566.5 738.4v6.3M566.9 725.1v2.8M567.3 734.9v5.0M567.3 733.1v6.1M567.4 735.7v2.0M567.4 737.8v2.7M567.7 738.9v4.1M567.7 739.4v2.0M568.0 715.2v4.6M568.2 731.6v1.9M568.2 736.8v5.6M568.4 735.6v3.5M568.5 732.7v5.9M568.9 734.3v5.9M568.9 731.4v2.7M569.4 730.2v1.6M569.7 726.1v5.6M569.8 725.7v5.8M569.8 720.7v3.6M569.9 734.2v1.6M570.4 735.0v2.6M570.4 728.5v3.6M570.7 717.1v2.7M570.8 730.4v3.8M571.7 737.8v2.7M571.9 743.9v6.3M571.9 722.5v2.5M572.1 735.4v1.8M572.2 732.7v5.0M572.3 728.3v4.9M572.3 740.8v3.2M573.1 731.8v3.8M573.2 721.8v2.9M573.5 745.3v2.6M574.0 749.4v1.8M575.0 734.1v2.8M575.4 730.7v6.1M575.7 747.2v5.3M576.1 741.5v1.7M576.6 750.8v6.2M576.6 739.0v1.8M576.7 733.9v1.8M576.9 745.8v6.4M577.1 755.6v4.0M577.1 745.6v5.0M577.7 723.3v2.3M577.8 746.4v1.7M577.9 731.7v3.6M578.0 725.5v3.1M578.1 753.8v2.0M578.1 740.1v4.7M578.2 735.4v4.9M578.4 739.4v5.8M578.5 734.0v4.6M578.7 737.4v4.9M579.3 727.1v4.4M580.2 730.4v1.5M580.4 740.8v3.4M580.7 742.5v3.2M580.9 727.6v6.3M580.9 746.0v6.1M581.0 753.4v3.9M581.0 731.3v2.5M581.3 734.2v3.2M582.1 736.0v4.7M582.4 725.7v3.4M582.7 739.0v4.4M582.9 743.0v3.6M583.2 741.8v3.0M583.4 727.1v2.6M583.4 734.8v3.0M583.7 748.7v2.8M583.8 744.7v5.7M583.9 737.3v3.7M584.1 750.8v5.7M584.1 722.1v2.6M584.7 738.6v5.3M584.8 741.4v4.2M585.0 748.2v3.7M585.1 727.4v4.0M585.1 749.8v1.7M585.4 745.5v2.3M585.8 737.0v3.6M586.1 749.6v6.4M586.1 733.8v4.3M586.2 724.3v1.9M586.3 731.9v2.6M586.6 718.6v2.6M586.6 728.5v5.7M587.1 740.3v2.4M587.2 748.9v3.8M587.4 745.0v3.4M587.7 733.6v6.3M588.1 739.3v2.7M588.5 736.3v4.0M588.6 752.5v4.0M588.8 733.5v5.8M589.4 741.7v1.5M589.7 724.3v4.1M589.8 750.2v2.9M589.8 741.9v3.0M590.1 734.3v3.5M590.1 727.0v6.1M590.2 737.8v3.7M590.2 738.6v4.3M590.3 751.6v3.8M590.7 732.3v3.4M590.8 734.0v2.4M590.9 729.4v6.1M591.7 737.9v1.9M591.8 739.8v5.4M592.0 746.1v5.1M592.1 727.8v5.2M592.1 743.0v3.6M592.7 736.4v5.9M592.7 730.8v2.3M592.8 734.9v6.3M593.1 727.7v6.3M593.1 728.5v2.5M593.1 731.6v1.6M593.4 743.8v4.5M593.5 732.7v6.4M593.5 727.2v1.5M593.8 743.0v2.2M593.8 743.1v3.3M594.1 743.0v5.6M594.8 744.2v4.3M595.1 730.2v3.0M595.1 715.5v3.4M595.3 728.3v3.9M595.9 733.7v4.6M596.3 756.1v2.7M596.5 726.0v1.9M596.6 736.2v5.1M597.2 752.0v4.6M597.5 738.4v6.2M597.8 740.9v4.0M598.1 736.5v5.0M598.2 737.9v3.7M598.4 731.7v4.2M598.5 736.5v1.7M598.6 737.6v3.8M599.3 738.9v5.3M599.6 740.7v1.7M599.7 733.2v3.0M599.8 728.4v4.7M599.9 744.6v6.2M600.1 741.3v2.3M600.2 729.9v1.6M600.3 726.9v5.1M600.4 739.0v6.5M600.8 734.5v6.2M600.8 739.3v5.5M600.9 744.7v1.8M601.1 748.7v1.6M601.5 733.5v5.0M601.5 739.9v6.4M602.1 727.1v3.9M602.2 736.7v5.2M602.7 738.8v5.3M602.9 727.7v2.7M603.0 747.6v4.9M603.0 745.1v4.9M603.1 738.7v1.6M603.6 728.1v4.9M604.1 737.5v1.5M604.3 742.5v4.8M604.3 743.1v5.4M605.0 746.9v4.3M605.1 734.1v5.9M605.6 756.1v1.7M606.1 741.5v4.4M606.6 739.8v3.1M606.8 738.7v5.7M607.4 725.4v4.6M609.2 729.7v5.2M609.7 737.2v4.4M610.2 735.1v5.7M610.4 745.9v4.9M610.6 736.1v4.3M610.6 740.7v4.6M611.0 741.2v1.9M611.0 714.7v4.7M611.1 736.8v5.1M611.2 726.0v5.1M611.3 730.1v1.7M611.3 744.4v4.9M612.1 731.8v6.1M612.2 739.2v2.6M612.4 738.8v4.0M612.5 726.4v2.0M612.6 735.6v4.5M612.8 746.3v4.6M612.8 733.2v1.6M613.3 737.8v2.2M613.5 733.4v1.5M613.8 732.7v6.0M613.9 744.9v4.6M613.9 734.9v3.4M614.0 735.6v3.9M614.4 741.5v3.0M614.4 732.0v2.3M614.5 729.3v1.7M614.6 753.3v3.7M615.0 741.2v3.6M615.0 734.4v5.3M615.4 734.1v3.1M615.5 746.6v3.6M616.1 731.9v6.3M616.4 730.2v5.9M616.5 735.4v5.9M616.7 731.0v3.8M616.8 739.2v2.4M617.1 738.5v6.3M617.4 750.4v3.5M617.5 734.3v6.4M617.7 743.8v4.9M617.9 737.7v4.6M618.0 735.7v3.8M618.1 723.7v3.0M618.1 739.6v2.8M618.4 734.1v3.2M618.7 743.5v4.8M619.2 738.6v5.7M619.4 737.5v3.2M619.7 743.0v4.4M619.7 725.6v4.1M619.8 743.5v2.8M619.8 734.5v5.2M619.9 741.4v1.6M620.0 727.9v3.9M620.2 742.7v5.1M620.4 723.3v5.4M620.6 730.8v6.1M620.7 726.5v2.0M620.9 741.6v4.2M621.4 734.8v4.7M621.4 728.5v5.4M621.6 722.9v6.0M622.6 723.4v5.6M622.6 723.4v3.6M622.8 728.2v6.2M623.3 732.6v4.3M624.1 740.1v5.2M624.2 751.5v4.6M624.4 745.2v3.8M624.5 692.3v2.2M624.6 728.7v5.7M624.7 737.4v2.2M625.4 728.5v4.2M626.2 717.8v3.1M626.8 739.5v1.7M627.2 737.1v4.1M628.0 724.8v2.5M628.2 736.3v4.3M628.3 732.3v2.4M628.4 734.8v3.4M628.5 736.7v4.2M628.7 738.3v2.9M628.9 744.9v3.6M629.2 730.2v5.1M629.3 734.0v6.4M629.4 717.8v6.0M629.7 731.4v2.0M629.9 751.5v2.8M629.9 736.4v3.0M630.0 747.7v6.0M630.1 728.4v2.1M630.9 748.8v3.7M631.5 744.3v2.9M631.7 733.5v6.4M632.0 738.6v1.9M632.5 727.8v5.1M632.6 732.2v5.7M632.9 734.3v6.2M633.1 721.1v1.6M633.2 742.7v4.5M633.3 735.7v3.3M633.4 732.0v4.0M634.0 735.6v5.2M634.5 738.1v3.1M634.6 726.9v4.3M634.9 738.6v5.0M635.1 732.1v4.5M635.2 736.0v4.6M635.6 731.7v6.3M635.7 743.3v4.1M635.8 737.7v2.5M636.0 745.1v3.5M636.1 737.7v4.0M638.4 728.7v4.1M638.6 729.7v6.0M639.0 742.1v5.4M639.5 745.0v1.7M639.7 729.9v5.1M640.2 738.5v2.4M640.2 728.8v2.7M640.5 744.9v5.0M640.7 737.2v3.7M640.9 733.4v2.6M641.0 732.2v3.1M641.1 714.9v4.3M641.9 726.6v3.7M642.0 738.9v3.7M642.4 729.3v1.9M642.6 735.5v2.4M642.7 735.0v5.9M642.8 739.4v6.0M642.8 722.3v3.3M643.0 740.7v3.2M643.1 733.2v2.3M643.2 731.0v5.0M643.6 721.3v1.7M644.1 740.9v4.2M644.1 740.9v2.6M644.2 733.3v3.6M644.2 743.9v4.3M644.3 723.6v2.9M644.3 738.0v3.8M644.3 728.4v3.4M644.6 737.2v5.7M644.7 739.9v2.9M644.8 729.0v3.7M644.9 739.5v3.5M645.2 734.6v5.3M645.5 728.6v4.5M645.5 734.4v5.5M646.1 728.8v3.2M646.2 739.5v3.8M646.3 754.9v3.5M646.4 723.8v4.0M646.5 722.8v3.2M647.1 744.8v5.1M647.4 738.5v3.9M647.8 724.9v1.9M647.9 749.7v3.9M647.9 734.8v2.7M648.4 740.5v2.3M648.6 729.7v5.5M649.0 742.3v1.9M649.2 734.2v4.3M649.3 743.5v4.7M649.5 719.5v2.4M649.5 745.6v4.1M649.6 734.6v2.5M649.8 739.8v1.7M649.9 744.2v1.9M650.1 739.1v3.0M650.2 725.5v6.4M650.3 731.7v6.4M650.3 732.5v6.2M650.5 736.3v4.3M650.9 731.7v2.4M651.4 734.3v5.7M651.4 727.6v6.3M652.1 729.5v5.3M652.3 737.3v6.4M652.5 733.8v5.2M652.7 724.6v4.8M653.2 729.6v6.3M653.2 729.9v1.9M654.0 752.9v6.2M654.0 750.0v3.0M654.4 742.3v2.5M654.7 743.9v2.4M655.1 754.7v5.1M655.2 734.4v2.1M656.2 751.8v5.6M656.2 735.5v1.8M656.3 735.0v2.3M656.6 742.3v5.1M656.7 742.9v2.8M657.2 756.9v3.6M657.2 746.0v5.7M657.3 752.7v1.5M657.3 735.7v5.2M657.3 752.5v1.5M657.4 731.1v5.5M657.5 737.8v1.7M658.4 738.7v6.2M658.4 735.9v3.1M658.4 742.9v6.3M658.8 741.1v5.5M659.2 739.8v4.8M659.2 744.1v4.7M659.2 741.3v4.4M659.6 749.3v6.5M659.8 746.4v1.6M659.9 749.4v6.3M660.1 742.3v1.9M660.5 747.0v2.3M660.5 752.6v2.7M661.2 723.4v3.7M661.3 739.6v4.8M661.5 734.2v5.4M661.7 744.6v5.6M662.0 747.0v4.9M662.4 737.5v5.9M662.7 754.9v4.1M662.8 734.2v2.9M662.8 742.0v3.0M664.1 737.8v5.0M664.2 741.2v5.3M664.5 738.1v4.9M665.0 731.8v6.0M665.0 740.4v3.9M665.6 736.3v5.7M665.7 730.9v2.7M665.8 728.8v2.5M665.8 727.7v3.7M665.9 741.8v3.4M666.0 739.5v3.7M666.2 740.6v5.7M666.7 727.1v2.8M666.8 743.2v3.7M667.0 717.5v2.9M667.1 728.0v3.7M667.4 736.0v3.4M667.6 735.2v3.3M667.7 735.4v4.4M667.8 722.8v4.2M667.8 738.2v5.8M667.9 739.6v5.0M668.1 737.3v5.8M668.6 739.5v4.6M668.8 719.2v6.1M669.0 741.7v4.3M669.1 728.9v5.2M669.1 731.3v2.7M669.3 729.2v3.8M669.5 720.2v4.8M669.6 741.4v4.0M669.8 718.5v3.0M670.0 730.7v4.5M670.3 727.6v2.3M670.6 731.7v5.3M670.7 729.1v6.5M671.2 731.3v3.4M671.8 735.1v6.3M671.9 733.3v2.9M672.1 726.9v4.0M672.1 747.2v3.0M672.6 740.6v4.1M673.0 723.4v4.8M673.2 740.4v5.6M673.6 736.7v5.7M673.8 730.8v3.1M674.0 728.3v2.1M674.0 738.5v4.1M674.1 738.0v4.7M674.5 728.0v1.7M674.8 736.5v3.3M674.8 740.2v2.4M675.1 727.9v2.5M675.8 733.8v4.4M676.1 731.1v3.6M676.3 735.3v2.2M676.7 726.0v3.9M676.8 735.8v5.0M676.9 747.2v5.9M676.9 724.6v2.5M677.0 725.5v6.4M677.3 732.3v4.3M677.8 731.5v5.4M678.5 729.8v1.8M678.6 723.7v2.0M678.8 722.4v2.6M679.1 734.0v5.7M680.0 729.4v3.4M680.2 738.0v4.0M680.3 735.2v4.3M680.4 736.3v6.4M680.7 728.4v5.2M680.8 727.6v2.7M680.8 746.9v2.4M680.8 721.7v5.9M681.0 734.9v1.8M681.8 737.1v2.7M681.9 739.0v5.5M682.0 721.0v3.5M682.5 735.8v4.3M682.8 724.5v3.4M682.9 747.0v5.1M683.0 730.7v1.6M683.1 727.2v3.9M683.3 742.2v5.6M683.5 729.6v5.1M683.5 733.5v4.7M684.0 726.5v1.7M684.2 745.8v3.9M684.4 725.6v2.8M684.7 739.7v5.4M684.8 733.6v4.1M684.8 737.1v3.6M685.1 731.7v2.9M685.3 748.0v4.7M685.5 743.4v6.3M685.5 745.9v2.1M685.6 736.0v3.7M685.9 739.4v6.3M686.1 732.2v2.7M686.5 741.0v6.2M686.5 734.9v4.3M686.5 727.0v4.4M686.7 733.5v2.8M686.8 729.5v2.9M687.4 737.8v6.2M687.4 735.7v2.6M687.7 731.6v3.2M687.8 744.4v1.9M688.0 734.2v2.1M688.6 748.6v2.5M690.4 735.1v3.9M690.6 735.7v3.1M690.7 734.0v2.4M690.7 727.2v6.1M691.2 731.4v3.4M691.5 725.2v6.1M691.5 735.0v2.5M691.7 747.2v6.3M691.7 726.1v6.5M692.2 737.4v4.9M692.2 718.9v5.8M692.5 750.9v3.8M692.7 731.6v4.0M693.0 746.1v2.3M693.1 729.6v4.6M693.2 739.2v4.5M693.3 739.5v3.5M693.6 724.5v2.1M694.3 738.9v5.1M694.5 752.3v1.9M695.2 730.3v5.7M695.4 741.5v2.9M695.5 738.2v3.1M695.7 749.2v3.5M695.8 741.6v3.0M696.1 732.4v1.5M696.1 742.2v3.4M697.0 750.6v4.5M697.1 745.7v2.6M697.7 742.4v6.4M697.8 737.2v3.3M698.5 725.9v4.7M698.5 734.6v3.9M698.6 730.8v2.0M699.2 738.7v6.1M699.3 747.9v2.0M699.5 739.0v5.2M699.5 750.6v5.0M699.7 738.7v2.2M700.0 748.9v5.9M700.0 731.4v1.7M700.2 729.6v1.8M700.3 743.7v5.9M700.5 737.7v5.9M700.5 740.0v1.7M700.9 726.2v6.4M701.0 731.4v3.8M701.1 730.8v1.6M701.2 744.3v3.0M701.4 741.4v5.6M701.5 740.7v2.4M701.8 737.6v5.8M701.9 748.1v2.4M702.1 763.6v6.5M702.6 747.9v4.0M702.9 745.4v5.3M702.9 748.9v2.2M703.0 722.6v1.9M703.0 740.7v3.1M703.0 712.6v5.0M703.3 734.5v2.8M703.5 752.1v2.2M703.7 735.5v2.0M703.7 736.6v3.3M703.8 731.2v4.8M703.9 745.5v3.0M704.4 741.2v3.6M704.5 729.9v2.3M704.7 738.8v4.8M704.9 749.3v5.8M705.6 733.1v1.6M706.0 732.0v4.9M706.0 731.4v3.3M706.7 744.7v3.5M706.8 741.0v4.6M706.9 740.4v4.2M707.3 734.2v3.4M707.4 728.0v5.7M707.8 733.1v5.8M707.8 732.2v2.3M707.8 746.9v2.2M707.9 725.1v5.7M708.0 740.8v2.2M708.0 736.9v2.7M708.1 744.3v5.8M708.1 737.5v4.3M708.2 737.8v5.7M708.2 742.5v3.5M708.3 734.8v5.4M708.8 741.6v1.9M709.0 753.7v3.0M709.2 734.6v2.8M709.2 734.0v6.2M709.8 750.5v3.1M710.2 737.5v2.9M710.6 741.6v2.9M711.2 736.4v5.3M711.5 739.7v4.6M711.8 729.0v3.3M711.9 739.1v6.2M712.1 738.0v3.1M712.1 729.3v6.0M712.3 741.4v3.9M712.6 741.5v2.2M713.3 740.1v6.1M714.9 737.1v2.9M715.3 725.4v2.7M715.4 739.2v5.9M716.5 743.0v1.6M716.6 739.8v3.1M716.6 752.2v4.5M716.6 741.0v1.6M717.0 733.4v4.6M717.1 735.7v1.9M717.3 729.2v4.5M717.4 729.0v5.1M717.4 726.6v4.9M717.4 734.4v5.1M717.6 722.9v5.3M717.6 728.9v5.4M718.0 740.2v5.3M718.1 714.4v4.7M718.2 741.3v3.5M718.3 735.0v5.3M718.9 736.3v3.9M719.2 733.5v1.6M719.3 751.1v2.8M719.4 734.9v2.9M719.8 741.8v6.2M720.2 738.1v6.3M720.3 740.5v4.6M720.9 737.8v3.1M721.5 742.4v4.1M721.6 745.2v5.4M722.1 719.2v5.8M722.1 731.2v4.6M722.2 733.2v5.7M722.3 732.7v2.4M722.7 739.9v1.9M722.8 736.9v3.2M723.3 744.5v3.9M723.5 738.0v2.8M724.0 742.0v5.4M724.1 739.6v5.0M724.3 734.3v5.6M724.3 713.4v3.4M724.6 720.2v5.0M724.8 747.0v3.9M724.9 740.4v3.6M724.9 743.9v4.2M725.2 743.2v4.8M725.5 725.3v2.4M725.6 737.4v5.6M725.8 751.7v6.0M725.9 714.7v5.8M726.1 737.3v2.1M726.3 752.0v2.7M726.3 741.8v4.6M726.5 732.1v4.6M726.6 737.0v5.0M726.8 729.5v3.2M727.4 743.3v3.1M727.7 744.0v2.5M727.9 738.5v6.1M727.9 743.2v2.4M728.0 738.3v5.6M728.1 737.7v4.7M728.1 737.1v6.0M728.4 738.0v6.4M728.8 753.7v6.1M728.9 744.8v2.0M729.0 739.9v2.7" stroke="#444" stroke-opacity="0.38" stroke-width="0.5" fill="none"/><path d="M138.7 664.1v5.0M138.8 664.6v3.0M138.8 667.6v2.9M139.0 656.7v4.7M139.3 668.6v3.8M139.4 661.3v2.1M139.9 685.2v2.8M140.2 664.7v3.4M140.3 672.9v4.2M140.7 678.9v4.0M140.9 656.0v2.8M140.9 649.0v2.7M141.4 667.4v5.0M141.4 660.7v2.1M141.5 664.3v2.0M141.5 669.7v2.1M141.5 667.0v5.3M141.6 667.2v4.8M141.6 668.7v5.8M141.7 662.2v5.8M141.8 674.4v1.9M141.8 675.1v1.6M142.0 672.3v5.2M142.2 672.5v3.2M142.2 676.2v3.0M142.4 675.8v3.9M142.9 665.5v4.2M142.9 671.4v2.2M142.9 639.9v2.1M143.0 671.0v3.2M143.0 659.5v1.6M143.0 670.2v5.3M143.0 664.9v4.5M143.1 663.4v2.0M143.1 663.8v1.8M143.1 659.2v3.2M143.3 658.3v2.9M143.5 666.4v4.2M143.6 662.1v5.2M143.8 657.7v3.6M144.0 677.4v2.5M144.2 665.1v1.7M144.2 657.2v4.2M144.3 666.1v4.5M144.4 660.4v5.9M144.5 682.1v2.0M144.7 671.5v3.8M144.8 681.7v2.0M145.3 673.0v3.2M145.5 673.2v3.5M145.7 659.4v5.1M145.8 685.8v4.6M145.9 654.3v2.7M146.2 659.1v4.9M146.2 675.3v5.1M146.2 672.8v3.6M146.4 665.0v5.8M146.4 661.4v3.0M146.7 660.0v4.4M146.7 649.0v4.3M146.8 654.5v4.9M147.1 665.9v1.7M147.2 662.3v2.7M147.3 666.3v3.5M147.4 660.6v4.4M148.0 665.1v3.3M148.0 657.8v2.1M148.2 666.3v5.5M148.2 667.5v3.5M148.4 657.9v1.8M148.6 667.6v5.6M148.8 664.7v3.0M149.8 657.3v3.8M150.0 666.6v4.9M150.0 669.1v2.0M150.2 657.6v5.1M150.6 664.8v4.3M150.6 665.9v4.7M150.7 672.9v6.4M150.8 654.1v3.7M150.9 667.1v4.8M151.0 688.6v6.5M151.4 673.1v2.8M151.7 672.6v2.5M151.8 663.3v1.7M152.3 676.4v2.2M152.4 656.3v3.0M153.0 665.3v2.6M153.6 663.0v2.1M153.8 663.4v3.3M153.9 650.1v4.8M154.0 668.7v6.4M154.2 661.4v2.8M154.3 682.2v2.9M154.4 682.2v2.1M154.4 650.5v5.1M154.8 667.4v5.4M155.1 668.4v5.3M155.1 661.0v5.8M155.6 653.1v6.1M155.7 675.1v5.7M155.8 678.5v5.4M155.9 681.1v2.7M156.1 680.9v2.7M156.4 669.3v2.1M156.5 678.2v2.2M156.7 671.5v5.3M156.8 670.4v2.0M156.8 695.8v5.2M157.5 687.7v3.5M158.0 658.1v2.4M158.8 692.2v2.7M159.1 678.5v2.4M159.4 682.7v3.7M159.5 669.2v2.5M159.7 668.1v4.2M159.9 668.4v1.9M160.0 672.2v4.7M160.0 674.3v3.5M160.2 665.2v5.8M160.4 677.7v3.3M160.5 663.1v6.3M160.5 670.7v3.9M160.7 674.1v2.9M161.0 674.5v6.0M161.1 680.8v4.5M161.3 674.2v6.4M161.4 669.4v3.8M161.4 678.2v1.6M161.4 680.0v3.8M161.4 676.5v5.9M161.6 683.8v4.8M161.6 672.2v3.5M161.9 672.5v2.9M162.1 682.8v5.5M497.4 640.1v5.1M497.5 652.2v3.0M497.8 667.3v3.7M497.9 655.9v3.4M498.0 660.6v2.0M498.3 645.2v2.8M498.3 641.5v3.1M498.4 647.2v2.7M498.5 649.8v3.2M499.0 652.1v6.1M499.2 636.8v6.5M499.3 653.3v3.0M499.6 660.7v2.1M499.9 641.0v4.7M499.9 643.0v5.5M500.0 634.6v4.4M500.2 659.3v3.3M500.3 653.3v5.7M500.6 666.7v4.2M500.7 655.3v4.2M500.8 646.6v6.4M500.9 642.8v2.2M501.8 647.5v2.4M501.8 645.7v2.4M501.9 643.3v1.8M502.0 657.5v2.9M502.1 657.6v1.6M502.1 638.5v3.1M502.2 654.0v1.5M502.2 655.4v4.8M502.5 620.4v5.1M502.7 631.8v2.7M502.7 646.6v3.3M502.9 666.6v3.4M503.1 645.9v3.9M503.2 654.6v4.2M503.3 653.1v5.3M503.6 664.2v5.0M503.7 640.9v4.4M503.9 641.3v2.3M504.0 655.3v4.4M504.2 647.3v2.6M504.3 660.6v2.9M504.3 653.9v5.8M504.5 655.4v4.4M504.8 627.8v3.1M505.0 639.1v4.6M505.0 663.3v6.3M505.0 648.3v4.7M505.1 655.1v4.5M505.2 664.5v5.7M505.3 641.8v4.5M505.4 651.2v4.7M505.9 658.6v4.5M506.0 659.5v2.6M506.7 645.7v6.1M506.8 654.6v3.4M507.3 650.8v2.1M507.5 646.4v5.0M507.6 672.2v3.0M523.8 667.8v5.9M523.8 656.1v1.9M524.2 665.7v4.3M524.5 656.0v6.2M524.7 661.5v4.4M524.8 663.9v1.6M524.9 660.6v4.0M525.3 645.3v2.9" stroke="#F00" stroke-opacity="0.3" stroke-width="0.6" fill="none"/><path d="M530.0 875.9v2.3M530.2 856.8v5.6M530.3 849.8v3.4M530.3 863.5v3.1M530.4 859.9v2.4M530.8 876.4v2.9M530.9 856.9v6.1M531.2 892.4v3.0M531.6 860.4v3.8M531.7 873.3v6.3M531.9 873.6v5.9M531.9 879.7v2.0M532.1 870.8v3.3M532.2 877.2v5.3M532.4 870.7v3.2M532.7 862.8v5.8M533.2 873.4v3.9M533.3 864.3v1.8M533.3 871.9v4.3M533.4 836.5v2.9M533.5 864.0v3.4M533.6 871.5v5.6M533.6 859.9v6.0M533.6 876.7v3.2M533.7 839.5v5.2M533.7 869.0v1.8M533.8 886.0v1.7M533.9 864.3v5.8M534.0 851.5v6.2M534.0 885.5v5.8M534.0 872.8v4.0M534.5 871.5v4.1M534.8 867.9v5.2M534.8 858.6v3.1M534.9 863.9v4.1M535.2 878.1v4.2M535.2 849.2v5.1M535.3 861.3v3.8M535.3 847.7v3.9M535.5 869.0v5.8M535.5 861.9v3.8M535.6 867.7v4.0M535.6 861.8v1.6M535.6 877.3v2.5M535.8 878.2v2.5M535.9 863.0v2.0M536.1 875.6v5.7M536.4 863.6v4.3M536.4 875.6v6.3M536.6 866.5v3.9M536.7 868.2v5.0M536.7 864.5v2.0M536.9 860.0v6.5M537.0 851.2v5.1M537.1 876.6v1.7M537.1 855.9v2.9M537.2 871.2v2.3M537.4 860.2v1.8M537.7 875.0v6.4M537.7 870.6v5.5M537.8 850.6v6.1M537.9 881.6v6.1M538.0 855.3v4.7M538.1 869.7v2.2M538.2 866.8v4.5M538.2 874.7v2.1M538.3 883.1v3.9M538.3 862.0v4.6M538.4 881.9v2.6M538.4 863.9v1.5M538.5 868.2v4.5M538.6 883.9v2.2M538.9 865.8v3.2M539.0 877.7v6.2M539.1 872.3v5.8M539.3 851.1v5.5M539.5 867.6v3.6M539.5 856.9v1.5M539.6 869.7v3.9M539.7 883.4v2.2M540.0 856.1v3.3M540.2 864.9v3.0M540.4 872.4v1.5M540.4 874.5v5.5M540.5 860.7v1.5M540.6 865.6v5.9M540.7 869.0v5.1M540.8 857.2v5.1M540.9 883.2v2.1M541.0 855.9v5.4" stroke="#00F" stroke-opacity="0.25" stroke-width="0.6" fill="none"/><path d="M515.0 752.6v4.0M515.1 758.9v3.1M515.2 753.5v5.8M515.2 746.3v4.5M515.4 753.1v3.8M515.5 752.6v2.5M515.5 760.4v1.6M515.6 752.2v4.2M515.6 755.5v3.2M516.3 749.7v3.0M517.0 752.0v5.5M517.1 752.4v1.6M517.1 761.8v3.1M517.2 756.6v5.5M496.3 699.0v35.0M496.8 705.0v28.0" stroke="#444" stroke-opacity="0.35" stroke-width="0.6" fill="none"/><path d="M495.9 712.4h1.4M495.9 731.4h1.4" stroke="#333" stroke-width="1.6" fill="none"/><path d="M61.7 737H82.5M82.5 738H110.5M113.9 738H118.7M118.7 737H138.9M164.1 739H187.0M189.0 736H193.5M196.0 742H198.0M200.0 742H203.0M207.0 740H218.0M218.0 740H245.5M250.2 736H282.9M286.0 733H289.0M291.4 740H303.0M303.0 741H330.0M331.8 742H335.2M336.5 737H341.0M342.5 740H354.0M354.5 736H362.5M363.0 739H367.0M371.0 742H375.5M376.5 739H405.0M406.5 737H413.0M415.5 738H439.0M441.0 737H455.0M456.0 739H461.0M462.5 739H473.0M476.0 738H485.0M489.0 738H495.0M509.5 738H513.5M514.0 751H517.0M517.0 737H525.0M525.0 736H530.0M542.0 737H557.0M561.5 734H573.0M575.0 742H579.5M579.5 740H607.0M609.0 738H616.5M619.5 737H621.5M622.0 732H626.0M639.0 736H645.5M645.5 741H650.0M650.0 733H653.0M653.0 745H662.0M664.0 742H666.5M667.0 736H688.0M689.5 737H692.0M695.0 743H697.0M699.5 740H713.0M716.5 736H720.0M721.0 738H727.0M727.5 745H729.0" stroke="#000" stroke-width="2" fill="none"/><path d="M110.2 750h2M187.0 727h2M193.0 738h2M194.5 744h2M198.5 734h2M202.5 747h2M203.5 752h2M246.5 741h2M283.0 742h2M283.0 748h2M336.0 717h2M367.0 745h2M340.5 752h2M413.5 742h2M460.6 730h2M472.5 748h2M485.5 740h2M484.0 748h2M487.0 748h2M557.5 736h2M556.5 745h2M559.5 744h2M617.0 732h2M626.3 740h2M628.5 735h2M632.0 746h2M630.5 750h2M634.0 734h2M637.0 745h2M692.5 744h2M697.5 732h2M714.5 734h2M719.5 745h2" stroke="#000" stroke-width="2" fill="none"/><path d="M138.7 671.9H142.0M142.0 668.4H144.0M143.5 664.9H147.0M147.0 667.8H150.0M150.0 674.0H155.5M155.0 668.4H156.7M156.0 673.5H158.5M156.5 678.2H159.0M159.0 682.0H161.0M161.0 685.3H162.0M500.5 652.0H505.0M505.0 656.4H508.0M497.6 648.0h2M499.0 659.7h2M496.5 662.0h2" stroke="#F00" stroke-width="2" fill="none"/><path d="M530.3 865.9H532.6M533.0 868.3H535.0M535.5 876.7H540.5" stroke="#00F" stroke-width="2" fill="none"/>
<path d="M113.3 584.55V906.45M162.9 584.55V906.45M206.1 584.55V906.45M249.1 584.55V906.45M290.2 584.55V906.45M331.2 584.55V906.45M370.8 584.55V906.45M405.9 584.55V906.45M440 584.55V906.45M475.4 584.55V906.45M508.9 584.55V906.45M541.4 584.55V906.45M574.4 584.55V906.45M608.2 584.55V906.45M636.8 584.55V906.45M663.5 584.55V906.45M689.3 584.55V906.45M714.3 584.55V906.45" stroke="#AAAAAA" stroke-width="1.8" fill="none"/>
<path d="M60.0 691.6H731" stroke="#FF0000" stroke-width="2" stroke-dasharray="1.699 5.097 6.796 5.097" fill="none"/>
<path d="M60.0 787.3H731" stroke="#0000FF" stroke-width="2" stroke-dasharray="1.699 5.097 6.796 5.097" fill="none"/>
<rect x="59.95" y="584.55" width="670.75" height="321.90" fill="none" stroke="#000" stroke-width="3.1"/>
<path d="M55.4 590.10H58.4M55.4 664.78H58.4M55.4 739.45H58.4M55.4 814.12H58.4M55.4 888.80H58.4" stroke="#333333" stroke-width="1.1" fill="none"/>
<text x="51.7" y="595.05" font-size="13.8" fill="#4D4D4D" text-anchor="end">1.0</text>
<text x="51.7" y="669.73" font-size="13.8" fill="#4D4D4D" text-anchor="end">0.5</text>
<text x="51.7" y="744.40" font-size="13.8" fill="#4D4D4D" text-anchor="end">0.0</text>
<text x="51.7" y="819.08" font-size="13.8" fill="#4D4D4D" text-anchor="end">−0.5</text>
<text x="51.7" y="893.75" font-size="13.8" fill="#4D4D4D" text-anchor="end">−1.0</text>
<text x="88.30" y="922" font-size="10" fill="#4D4D4D" text-anchor="middle">1</text>
<text x="138.10" y="922" font-size="10" fill="#4D4D4D" text-anchor="middle">2</text>
<text x="184.50" y="922" font-size="10" fill="#4D4D4D" text-anchor="middle">3</text>
<text x="227.60" y="922" font-size="10" fill="#4D4D4D" text-anchor="middle">4</text>
<text x="269.65" y="922" font-size="10" fill="#4D4D4D" text-anchor="middle">5</text>
<text x="310.70" y="922" font-size="10" fill="#4D4D4D" text-anchor="middle">6</text>
<text x="351.00" y="922" font-size="10" fill="#4D4D4D" text-anchor="middle">7</text>
<text x="388.35" y="922" font-size="10" fill="#4D4D4D" text-anchor="middle">8</text>
<text x="422.95" y="922" font-size="10" fill="#4D4D4D" text-anchor="middle">9</text>
<text x="457.70" y="922" font-size="10" fill="#4D4D4D" text-anchor="middle">10</text>
<text x="492.15" y="922" font-size="10" fill="#4D4D4D" text-anchor="middle">11</text>
<text x="525.15" y="922" font-size="10" fill="#4D4D4D" text-anchor="middle">12</text>
<text x="557.90" y="922" font-size="10" fill="#4D4D4D" text-anchor="middle">13</text>
<text x="591.30" y="922" font-size="10" fill="#4D4D4D" text-anchor="middle">14</text>
<text x="622.50" y="922" font-size="10" fill="#4D4D4D" text-anchor="middle">15</text>
<text x="650.15" y="922" font-size="10" fill="#4D4D4D" text-anchor="middle">16</text>
<text x="676.40" y="922" font-size="10" fill="#4D4D4D" text-anchor="middle">17</text>
<text x="701.80" y="922" font-size="10" fill="#4D4D4D" text-anchor="middle">18</text>
<text x="722.65" y="922" font-size="10" fill="#4D4D4D" text-anchor="middle">19</text>
<text x="0" y="0" font-size="17.8" font-weight="bold" fill="#000" text-anchor="middle" transform="translate(16.4,742.2) rotate(-90)">Copy ratio (log2)</text>
<text x="395.5" y="947" font-size="17.5" font-weight="bold" fill="#000" text-anchor="middle">Chromosome</text>
</svg></body></html>
